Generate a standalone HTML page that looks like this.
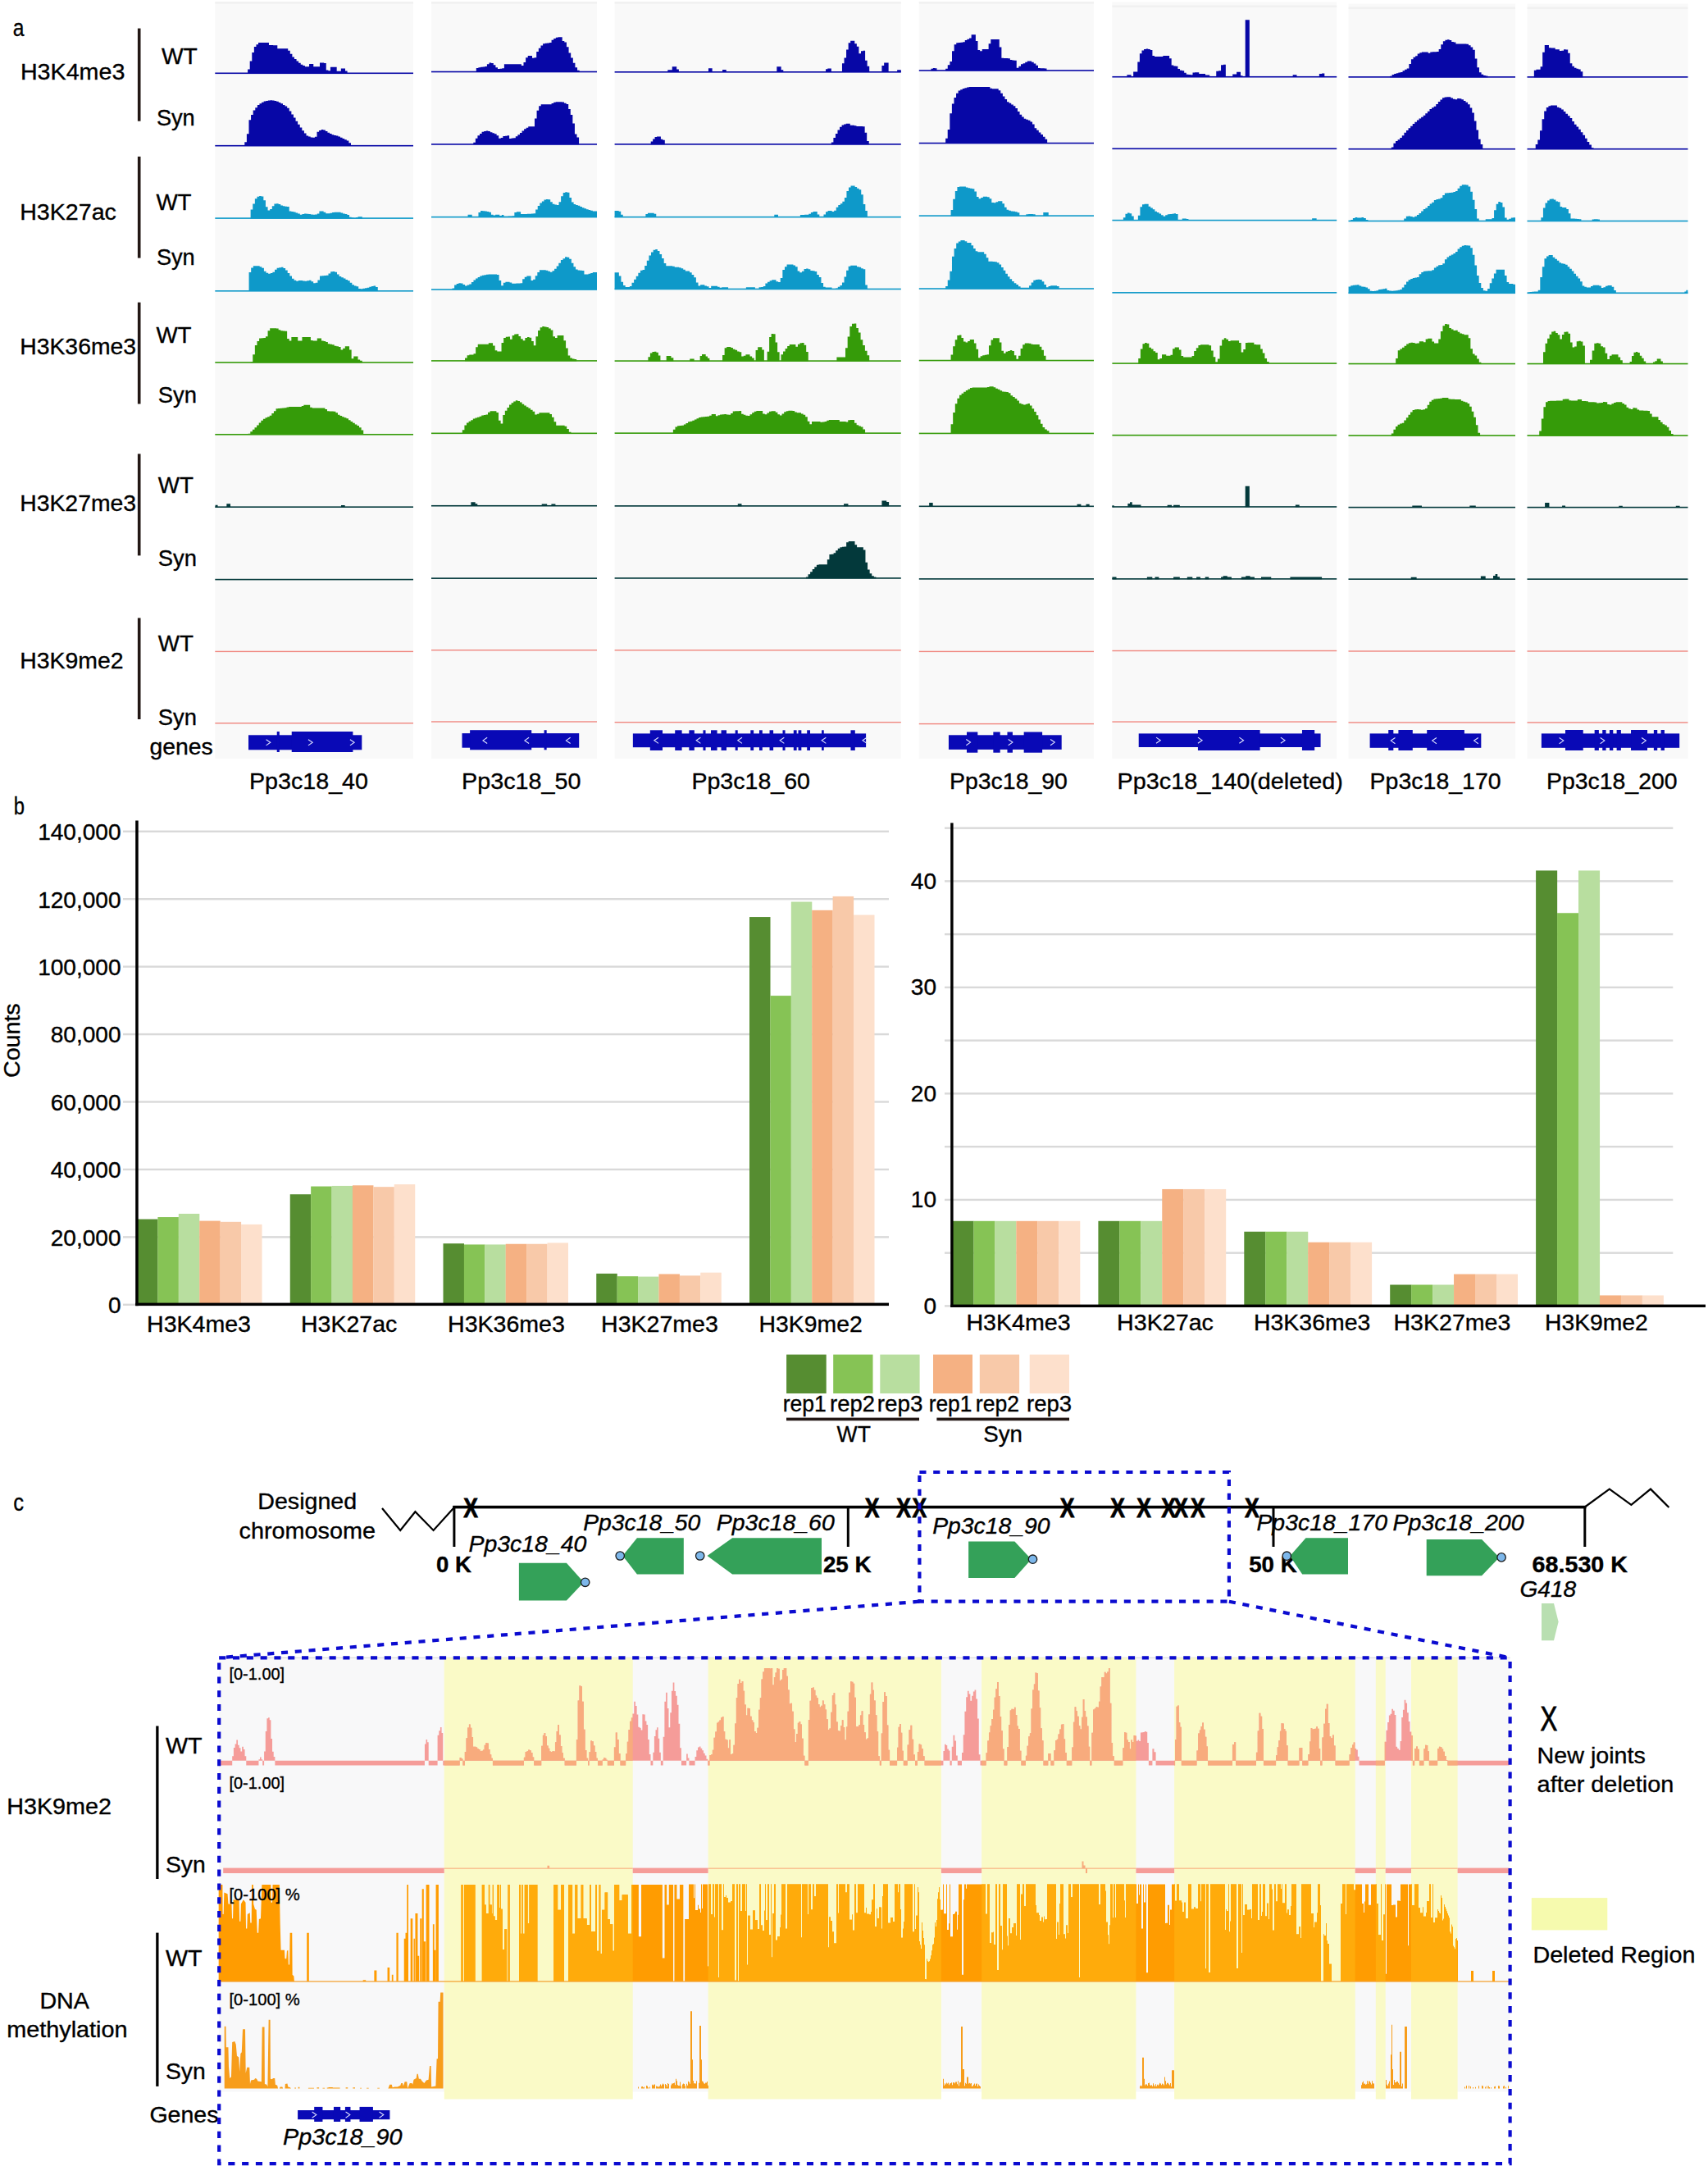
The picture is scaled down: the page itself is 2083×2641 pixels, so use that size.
<!DOCTYPE html>
<html lang="en"><head><meta charset="utf-8"><title>Figure</title>
<style>html,body{margin:0;padding:0;background:#fff}svg{display:block}</style>
</head><body>
<svg width="2083" height="2641" viewBox="0 0 2083 2641">
<rect width="2083" height="2641" fill="#fff"/>
<g id="sec-a">
<rect x="262.3" y="2" width="241.7" height="923" fill="#f9f9f9"/>
<rect x="262.3" y="2" width="241.7" height="2.6" fill="#f1f1f1"/>
<rect x="526" y="2" width="202" height="923" fill="#f9f9f9"/>
<rect x="526" y="2" width="202" height="2.6" fill="#f1f1f1"/>
<rect x="749.6" y="2" width="349.2" height="923" fill="#f9f9f9"/>
<rect x="749.6" y="2" width="349.2" height="2.6" fill="#f1f1f1"/>
<rect x="1120.8" y="2" width="213.2" height="923" fill="#f9f9f9"/>
<rect x="1120.8" y="2" width="213.2" height="2.6" fill="#f1f1f1"/>
<rect x="1356.4" y="2.5" width="273.8" height="922.5" fill="#f9f9f9"/>
<rect x="1356.4" y="6.5" width="273.8" height="2.6" fill="#f1f1f1"/>
<rect x="1644.5" y="4.5" width="203.5" height="920.5" fill="#f9f9f9"/>
<rect x="1644.5" y="8.5" width="203.5" height="2.6" fill="#f1f1f1"/>
<rect x="1862.5" y="4.5" width="196" height="920.5" fill="#f9f9f9"/>
<rect x="1862.5" y="8.5" width="196" height="2.6" fill="#f1f1f1"/>
<rect x="262.3" y="88.49" width="241.7" height="1.6" fill="#0707a6"/>
<path d="M302.11 89.59V84.56H304.69V74.45H307.28V64.12H309.86V57.09H312.45V54.25H315.03V51.91H317.62V51.91H320.2V51.91H322.79V51.91H325.37V51.91H327.96V54.93H330.54V55.08H333.13V55.23H335.71V55.37H338.3V59.23H340.88V59.23H343.47V59.23H346.05V59.23H348.63V59.23H351.22V61.65H353.8V65.79H356.39V69.43H358.97V72.01H361.56V74.58H364.14V76.82H366.73V78.72H369.31V80.01H371.9V81.18H374.48V81.18H377.07V77.96H379.65V77.96H382.24V81.18H384.82V81.18H387.41V81.18H389.99V76.5H392.58V76.5H395.16V76.95H397.75V85.53H400.33V86.16H402.92V81.77H405.5V81.77H408.09V81.77H410.67V86.74H413.26V86.74H415.84V83.52H418.43V83.52H421.01V86.45H423.59V89.59Z" fill="#0707a6"/>
<rect x="262.3" y="176.89" width="241.7" height="1.6" fill="#0707a6"/>
<path d="M298.3 177.99V173.13H300.9V163.18H303.49V146.32H306.08V139.88H308.68V134.54H311.27V131.27H313.86V128.02H316.46V126.16H319.05V124.81H321.65V123.46H324.24V122.96H326.83V122.55H329.43V122.2H332.02V122.62H334.61V123.03H337.21V123.68H339.8V124.97H342.39V126.27H344.99V127.93H347.58V129.59H350.18V131.66H352.77V135.55H355.36V139.44H357.96V143.58H360.55V147.73H363.14V151.7H365.74V155.59H368.33V159.22H370.93V162.46H373.52V165.39H376.11V166.6H378.71V167.43H381.3V167.82H383.89V166.8H386.49V160.68H389.08V158.95H391.67V158.08H394.27V158.6H396.86V159.95H399.46V161.68H402.05V162.98H404.64V164.27H407.24V165H409.83V165.51H412.42V166.41H415.02V167.71H417.61V169H420.2V170.3H422.8V171.6H425.39V174.15H427.99V177.99Z" fill="#0707a6"/>
<rect x="262.3" y="265.3" width="241.7" height="1.6" fill="#0e99c9"/>
<path d="M305.62 266.4V255.46H308.24V248.42H310.86V242.21H313.47V239.82H316.09V238.98H318.71V239.59H321.33V244.13H323.95V252.17H326.56V256.54H329.18V254.97H331.8V251.31H334.42V248.52H337.03V248.17H339.65V249.05H342.27V250.62H344.89V251.18H347.5V251.66H350.12V252H352.74V257.44H355.36V257.96H357.98V258.61H360.59V259.49H363.21V260.6H365.83V261.79H368.45V260.92H371.06V260.43H373.68V260.69H376.3V260.98H378.92V261.5H381.54V261.69H384.15V261.43H386.77V260.42H389.39V257.41H392.01V257.41H394.62V258.7H397.24V260.34H399.86V260.34H402.48V259.82H405.1V258.95H407.71V258.87H410.33V258.87H412.95V258.87H415.57V259.61H418.18V260.51H420.8V260.91H423.42V261.88H426.04V264.78H428.66V265.38H431.27V265.98H433.89V265.21H436.51V264.14H439.13V264.14H441.74V266.4Z" fill="#0e99c9"/>
<rect x="262.3" y="354" width="241.7" height="1.6" fill="#0e99c9"/>
<path d="M303.57 355.1V331.98H306.19V326.39H308.81V324.16H311.43V324.16H314.05V324.16H316.67V325.14H319.29V326.72H321.91V330.63H324.53V332.72H327.15V333.8H329.77V332.88H332.39V331.75H335.01V328.78H337.63V326.8H340.25V326.15H342.87V325.86H345.49V327.08H348.11V329.47H350.73V332.97H353.35V336.46H355.97V339.72H358.59V341.82H361.21V342.64H363.83V342.11H366.45V341.9H369.07V342.6H371.69V342.65H374.31V342.23H376.93V341.81H379.55V343.37H382.17V345.2H384.79V344.85H387.41V341.47H390.03V336.4H392.65V336.22H395.27V336.05H397.89V335.87H400.51V333.59H403.13V331.24H405.75V330.98H408.37V331.63H410.99V334.6H413.61V336.95H416.23V338.26H418.85V339.57H421.47V340.88H424.09V342.19H426.71V344.68H429.33V347.3H431.95V348.6H434.57V349.26H437.19V351.92H439.81V352.17H442.43V351.73H445.05V351.29H447.67V350.63H450.29V349.75H452.91V348.88H455.53V348.39H458.15V350.09H460.77V355.1Z" fill="#0e99c9"/>
<rect x="262.3" y="441.17" width="241.7" height="1.6" fill="#359b09"/>
<path d="M305.62 442.27V441.39H308.24V432.31H310.86V421.06H313.47V415.89H316.09V412.49H318.71V412.28H321.33V412.07H323.95V410.21H326.56V403.36H329.18V400.22H331.8V400.2H334.42V400.2H337.03V400.55H339.65V402.29H342.27V403.23H344.89V403.44H347.5V403.65H350.12V413.02H352.74V415.58H355.36V411.03H357.98V411.03H360.59V411.03H363.21V415.42H365.83V415.42H368.45V411.03H371.06V411.03H373.68V411.03H376.3V411.03H378.92V415.1H381.54V415.42H384.15V415.42H386.77V412.49H389.39V412.49H392.01V415.5H394.62V415.96H397.24V417.02H399.86V419.31H402.48V419.83H405.1V420.35H407.71V421.84H410.33V422.15H412.95V422.93H415.57V426.41H418.18V424.65H420.8V422.15H423.42V422.15H426.04V426.58H428.66V437.24H431.27V434.45H433.89V434.45H436.51V438.6H439.13V439.73H441.74V442.27Z" fill="#359b09"/>
<rect x="262.3" y="528.99" width="241.7" height="1.6" fill="#359b09"/>
<path d="M302.69 530.09V528.81H305.3V526.24H307.9V523.71H310.5V521.28H313.1V518.54H315.7V515.55H318.31V512.84H320.91V510.76H323.51V509.33H326.11V508.28H328.71V506.66H331.32V504.06H333.92V501.22H336.52V498.27H339.12V498.04H341.73V497.82H344.33V497.6H346.93V497.33H349.53V496.47H352.13V495.92H354.74V495.92H357.34V495.92H359.94V495.92H362.54V495.92H365.14V495.92H367.75V495.01H370.35V493.87H372.95V493.87H375.55V493.87H378.16V496.84H380.76V497.39H383.36V497.39H385.96V497.39H388.56V497.39H391.17V497.39H393.77V497.39H396.37V499.08H398.97V501.25H401.57V501.4H404.18V501.55H406.78V501.7H409.38V503.15H411.98V505.7H414.58V507H417.19V508.28H419.79V509.33H422.39V510.37H424.99V512.15H427.6V514.1H430.2V515.83H432.8V517.39H435.4V518.95H438V521.29H440.61V524.44H443.21V530.09Z" fill="#359b09"/>
<rect x="262.3" y="617.4" width="241.7" height="1.6" fill="#03393b"/>
<path d="M262.59 618.5V615.65H265.52V618.5ZM276.35 618.5V614.19H278.69V614.19H281.03V618.5ZM415.98 618.5V615.95H418.33V615.95H420.67V618.5Z" fill="#03393b"/>
<rect x="262.3" y="705.8" width="241.7" height="1.6" fill="#03393b"/>
<rect x="526" y="86.73" width="202" height="1.6" fill="#0707a6"/>
<path d="M580.8 87.83V82.9H583.42V82.25H586.04V81.7H588.66V81.43H591.29V81.08H593.91V78.29H596.53V76.5H599.15V77.05H601.78V79.33H604.4V82.25H607.02V83.97H609.64V83.65H612.27V83.34H614.89V78.25H617.51V78.25H620.13V78.25H622.76V78.25H625.38V78.25H628V78.25H630.62V78.25H633.25V78.25H635.87V80.08H638.49V76H641.11V70.24H643.74V68.01H646.36V68.01H648.98V70.71H651.6V70.34H654.23V63.07H656.85V58.7H659.47V55.62H662.09V53.26H664.72V52.83H667.34V52.39H669.96V51.95H672.58V48.86H675.2V47.08H677.83V45.77H680.45V45.17H683.07V45.17H685.69V50H688.32V51.4H690.94V57.27H693.56V64.48H696.18V70.6H698.81V76.72H701.43V82.36H704.05V85.81H706.67V87.83Z" fill="#0707a6"/>
<rect x="526" y="175.14" width="202" height="1.6" fill="#0707a6"/>
<path d="M577.28 176.24V173.76H579.86V168.8H582.44V165.37H585.01V163.11H587.59V160.84H590.16V159.94H592.74V159.55H595.32V159.97H597.89V161.34H600.47V162.36H603.04V163.26H605.62V165.37H608.2V168.81H610.77V168H613.35V166.05H615.93V165.66H618.5V165.28H621.08V168.92H623.65V168.53H626.23V168.14H628.81V166.28H631.38V164.35H633.96V161.98H636.53V159.4H639.11V157.25H641.69V155.7H644.26V154.37H646.84V154.37H649.41V154.37H651.99V144.53H654.57V134.69H657.14V129.25H659.72V127.14H662.3V127.14H664.87V127.14H667.45V127.14H670.02V127.14H672.6V125.97H675.18V124.68H677.75V124.21H680.33V124.21H682.9V124.21H685.48V124.51H688.06V125.8H690.63V127.08H693.21V132.88H695.78V139.96H698.36V150.56H700.94V163.44H703.51V167.61H706.09V176.24Z" fill="#0707a6"/>
<rect x="526" y="263.84" width="202" height="1.6" fill="#0e99c9"/>
<path d="M570.55 264.94V261.8H573.13V261.8H575.71V264.94H578.29V264.94H580.87V264.94H583.46V259.04H586.04V256.89H588.62V257.15H591.2V257.41H593.78V258.05H596.36V258.7H598.94V261.68H601.52V262.5H604.11V261.8H606.69V261.8H609.27V263.02H611.85V261.9H614.43V263.71H617.01V263.72H619.59V263.57H622.17V263.42H624.75V263.27H627.34V259.09H629.92V258.29H632.5V258.29H635.08V261.12H637.66V261.08H640.24V260.94H642.82V260.8H645.4V260.66H647.98V260.52H650.57V260.37H653.15V255.54H655.73V250.92H658.31V247.48H660.89V245.41H663.47V243.47H666.05V242.99H668.63V243.34H671.21V246.27H673.8V248.78H676.38V249.43H678.96V250.07H681.54V246.34H684.12V239.23H686.7V235.11H689.28V234.28H691.86V234.8H694.45V240.9H697.03V246.55H699.61V249.12H702.19V249.95H704.77V250.77H707.35V251.95H709.93V253.25H712.51V254.34H715.09V255.25H717.68V256.09H720.26V256.74H722.84V257.38H725.42V257.41H728V264.94Z" fill="#0e99c9"/>
<rect x="526" y="352.24" width="202" height="1.6" fill="#0e99c9"/>
<path d="M551.52 353.34V351.38H554.12V347.45H556.71V346H559.31V345.27H561.9V345.62H564.5V346.92H567.09V348.48H569.69V347.57H572.28V346.59H574.88V344H577.47V341.4H580.07V339.62H582.67V338.06H585.26V336.51H587.86V335.87H590.45V335.26H593.05V334.66H595.64V334.4H598.24V334.4H600.83V334.4H603.43V334.4H606.02V334.88H608.62V341.89H611.21V348.32H613.81V344.86H616.4V343.77H619V343.77H621.59V344.55H624.19V345.78H626.78V345.65H629.38V345.52H631.98V345.39H634.57V345.26H637.17V340.26H639.76V337.66H642.36V336.45H644.95V336.45H647.55V341.91H650.14V340.69H652.74V336.36H655.33V332.04H657.93V329.13H660.52V329.13H663.12V329.13H665.71V329.66H668.31V330.7H670.9V331.74H673.5V330.27H676.09V327.68H678.69V324.52H681.29V320.63H683.88V317.08H686.48V315.13H689.07V313.19H691.67V313.83H694.26V315.68H696.86V320.87H699.45V325.14H702.05V328.6H704.64V329.4H707.24V329.71H709.83V330.12H712.43V334.53H715.02V334.41H717.62V333.76H720.21V332.97H722.81V332.1H725.4V332.06H728V353.34Z" fill="#0e99c9"/>
<rect x="526" y="439.12" width="202" height="1.6" fill="#359b09"/>
<path d="M567.04 440.22V436.53H569.66V433.13H572.27V432.4H574.89V432.4H577.51V431.13H580.13V423.24H582.74V419.81H585.36V419.81H587.98V419.81H590.6V419.81H593.22V419.81H595.83V418.35H598.45V418.35H601.07V421.62H603.69V427.23H606.3V428.59H608.92V428.59H611.54V418.08H614.16V411.95H616.78V410.81H619.39V410.55H622.01V413.73H624.63V408.91H627.25V407.51H629.86V407.22H632.48V410.11H635.1V413.36H637.72V415.22H640.34V411.97H642.95V411.03H645.57V411.68H648.19V416.11H650.81V421.13H653.42V410.24H656.04V403.05H658.66V399.25H661.28V397.94H663.9V398.47H666.51V399.12H669.13V400.53H671.75V402.49H674.37V410.31H676.98V411.89H679.6V408.98H682.22V408.98H684.84V408.98H687.45V415.17H690.07V424.59H692.69V433.59H695.31V436.48H697.93V437.56H700.54V437.9H703.16V440.22Z" fill="#359b09"/>
<rect x="526" y="527.53" width="202" height="1.6" fill="#359b09"/>
<path d="M563.82 528.63V524.29H566.42V518.47H569.02V515.6H571.62V513.86H574.22V512.13H576.82V510.47H579.42V509.56H582.02V508.65H584.62V507.63H587.22V506.59H589.82V505.94H592.42V505.55H595.02V502.81H597.62V501.19H600.22V501.19H602.82V501.19H605.42V502.95H608.02V512.67H610.62V516.42H613.22V506.05H615.82V500.85H618.42V496.89H621.02V493.4H623.62V491.15H626.22V489.44H628.82V488.23H631.42V489.03H634.02V490.39H636.62V492.64H639.22V494.58H641.82V496.14H644.42V497.78H647.02V499.73H649.62V501.68H652.22V505.49H654.83V504.74H657.43V503.24H660.03V503.24H662.63V503.24H665.23V503.24H667.83V503.24H670.43V504.89H673.03V508.8H675.63V514.3H678.23V518.76H680.83V518.76H683.43V518.76H686.03V518.76H688.63V519.74H691.23V522.98H693.83V526.74H696.43V528.63Z" fill="#359b09"/>
<rect x="526" y="615.93" width="202" height="1.6" fill="#03393b"/>
<path d="M574.36 617.03V612.14H576.99V612.14H579.63V614.19H582.26V617.03ZM660.71 617.03V614.48H663.93V614.48H667.15V617.03ZM672.42 617.03V614.48H674.91V614.48H677.4V617.03Z" fill="#03393b"/>
<rect x="526" y="704.34" width="202" height="1.6" fill="#03393b"/>
<rect x="749.6" y="87.02" width="349.2" height="1.6" fill="#0707a6"/>
<path d="M814.31 88.12V85.28H817.03V85.28H819.74V81.3H822.46V81.3H825.18V84.58H827.89V88.12ZM863.96 88.12V83.17H866.3V83.17H868.64V88.12ZM881.05 88.12V85.05H883.4V85.05H885.74V88.12ZM947.33 88.12V81.3H949.98V81.3H952.64V85.2H955.29V88.12ZM1007.05 88.12V84.25H1009.31V83.41H1011.58V83.41H1013.84V88.12ZM1026.96 88.12V77.26H1029.51V70.44H1032.07V60.44H1034.63V52.15H1037.19V49.68H1039.75V49.68H1042.3V53.3H1044.86V56.72H1047.42V65.37H1049.98V62.27H1052.54V61.86H1055.09V73.82H1057.65V80.75H1060.21V88.12ZM1075.43 88.12V79.89H1078.17V76.38H1080.9V76.38H1083.63V88.12ZM1094.17 88.12V85.28H1096.48V85.28H1098.8V88.12Z" fill="#0707a6"/>
<rect x="749.6" y="175.08" width="349.2" height="1.6" fill="#0707a6"/>
<path d="M793.7 176.18V172.49H796.14V169.48H798.58V167H801.03V166.54H803.47V166.54H805.91V169.72H808.35V170.74H810.8V176.18ZM1013.84 176.18V173.42H1016.39V168.03H1018.94V162.93H1021.49V158.62H1024.04V154.87H1026.59V152.4H1029.14V151.47H1031.69V150.85H1034.24V150.85H1036.79V152.73H1039.34V152.73H1041.89V153.25H1044.44V153.9H1046.99V153.9H1049.54V153.9H1052.09V154.17H1054.64V161.86H1057.19V171.88H1059.74V176.18Z" fill="#0707a6"/>
<rect x="749.6" y="263.84" width="349.2" height="1.6" fill="#0e99c9"/>
<path d="M749.6 264.94V256.94H752.14V256.94H754.67V257.67H757.21V261.73H759.74V264.94ZM787.38 264.94V260.88H789.95V259.8H792.53V259.75H795.11V259.75H797.68V260.87H800.26V264.94ZM944.29 264.94V261.63H946.63V261.63H948.97V264.94ZM975.9 264.94V262.09H978.5V261.96H981.11V261.83H983.71V261.7H986.31V260.69H988.91V258.98H991.51V258.11H994.12V258.11H996.72V261.44H999.32V264.94ZM1004.47 264.94V261.42H1007.02V258.2H1009.56V256.94H1012.1V256.94H1014.64V257.92H1017.19V256.71H1019.73V252.69H1022.27V250.08H1024.81V248.17H1027.36V245.67H1029.9V241.02H1032.44V233.06H1034.98V228.43H1037.53V226.5H1040.07V226.5H1042.61V227.98H1045.16V229.79H1047.7V231.18H1050.24V237.34H1052.78V249.1H1055.33V257.11H1057.87V264.94Z" fill="#0e99c9"/>
<rect x="749.6" y="351.66" width="349.2" height="1.6" fill="#0e99c9"/>
<path d="M749.6 352.76V332.35H752.21V332.35H754.83V336.55H757.44V343.81H760.05V348.01H762.66V349.92H765.28V349.92H767.89V348.99H770.5V344.64H773.12V340.66H775.73V336.74H778.34V332.82H780.95V329.76H783.57V328.89H786.18V323.94H788.79V317.68H791.41V311.47H794.02V307.55H796.63V304.86H799.24V304.02H801.86V306.11H804.47V309.93H807.08V315.03H809.69V320.95H812.31V324.16H814.92V324.16H817.53V324.16H820.15V324.76H822.76V325.8H825.37V325.8H827.98V326.17H830.6V327.21H833.21V328.85H835.82V330.48H838.44V330.48H841.05V332.26H843.66V334.97H846.27V338.25H848.89V344.47H851.5V348.5H854.11V347.34H856.73V347.19H859.34V348.51H861.95V349.21H864.56V351.05H867.18V348.75H869.79V348.75H872.4V348.75H875.02V349.87H877.63V350.72H880.24V350.15H882.85V350.15H885.47V350.15H888.08V352.76ZM909.86 352.76V350.15H912.61V350.15H915.36V350.15H918.11V350.15H920.87V352.76ZM925.55 352.76V350.37H928.17V350.11H930.79V349H933.4V345.51H936.02V343.63H938.64V342.18H941.25V341.25H943.87V341.25H946.49V343.13H949.11V344.06H951.72V338.9H954.34V329.05H956.96V325.17H959.58V322.52H962.19V322.52H964.81V322.52H967.43V323.62H970.05V325.16H972.66V330.42H975.28V332.21H977.9V330.63H980.52V327.97H983.13V327.4H985.75V328.29H988.37V330.08H990.99V330.29H993.6V330.98H996.22V334.97H998.84V337.93H1001.46V345.03H1004.07V349.71H1006.69V350.39H1009.31V350.39H1011.93V350.39H1014.54V352.76ZM1019.23 352.76V351.45H1021.8V349.68H1024.38V347.97H1026.96V344.53H1029.53V337.39H1032.11V329.75H1034.68V324.68H1037.26V323.69H1039.84V323.69H1042.41V323.69H1044.99V325.35H1047.56V325.87H1050.14V327.26H1052.72V328.27H1055.29V347.58H1057.87V352.76Z" fill="#0e99c9"/>
<rect x="749.6" y="439.29" width="349.2" height="1.6" fill="#359b09"/>
<path d="M790.42 440.39V435.2H792.92V430.41H795.42V429H797.92V428.75H800.41V429.73H802.91V433.49H805.41V440.39ZM812.67 440.39V434.04H815.56V434.04H818.45V436.37H821.33V440.39ZM841.24 440.39V437.55H843.93V437.55H846.63V440.39ZM853.65 440.39V433.98H856V431.93H858.34V431.93H860.68V434.41H863.02V436.85H865.36V440.39ZM881.05 440.39V433.06H883.63V424.2H886.21V423.03H888.78V423.03H891.36V424.09H893.93V425.8H896.51V426.83H899.09V428.51H901.66V429.27H904.24V434.48H906.81V433.71H909.39V432.26H911.97V432.2H914.54V434.61H917.12V436.54H919.7V440.39ZM921.57 440.39V426.93H924.15V423.36H926.72V423.18H929.3V426.43H931.87V440.39ZM935.62 440.39V428.76H938.12V411.09H940.62V407.03H943.11V407.35H945.61V417.41H948.11V429.17H950.61V440.39ZM952.48 440.39V432.24H955.04V428.45H957.6V425.04H960.16V421.89H962.71V419.99H965.27V419.99H967.83V419.99H970.39V422.81H972.95V419.86H975.51V418.14H978.06V417.89H980.62V420.67H983.18V428.92H985.74V440.39ZM1020.4 440.39V435.44H1023.05V435.44H1025.71V435.44H1028.36V435.44H1031.01V424.2H1033.67V410.39H1036.32V397.9H1038.98V394.81H1041.63V394.55H1044.29V399.92H1046.94V405.47H1049.59V414.23H1052.25V421.08H1054.9V427.72H1057.56V433.26H1060.21V440.39Z" fill="#359b09"/>
<rect x="749.6" y="527.35" width="349.2" height="1.6" fill="#359b09"/>
<path d="M820.87 528.45V523.78H823.47V520.6H826.07V519.34H828.67V518.99H831.28V518.64H833.88V517.44H836.48V515.89H839.08V514.29H841.68V513.64H844.29V512.78H846.89V511.48H849.49V510.18H852.09V508.88H854.69V508.39H857.3V508.21H859.9V508.04H862.5V507.65H865.1V506.77H867.7V505H870.31V505H872.91V507.27H875.51V506.23H878.11V505.42H880.72V505.25H883.32V505.07H885.92V505.49H888.52V505.79H891.12V504.05H893.73V501.56H896.33V501.34H898.93V501.19H901.53V501.04H904.13V504.65H906.74V505.8H909.34V506.66H911.94V506.96H914.54V505.22H917.15V503.19H919.75V501.74H922.35V501.02H924.95V501.02H927.55V501.02H930.16V504.53H932.76V505.18H935.36V503.45H937.96V501.71H940.56V501.26H943.17V501.13H945.77V502.69H948.37V505.37H950.97V506.57H953.58V504.49H956.18V502.23H958.78V501.22H961.38V500.83H963.98V500.87H966.59V500.98H969.19V502.47H971.79V503.13H974.39V503.13H976.99V504.4H979.6V505.79H982.2V508.13H984.8V513.69H987.4V517.26H990.01V513.9H992.61V513.9H995.21V513.9H997.81V513.9H1000.41V514.83H1003.02V514.57H1005.62V514.08H1008.22V512.78H1010.82V512.02H1013.42V512.02H1016.03V512.02H1018.63V512.02H1021.23V512.02H1023.83V513.9H1026.44V513.9H1029.04V513.9H1031.64V514.57H1034.24V512.23H1036.84V512.02H1039.45V512.02H1042.05V515.77H1044.65V518.13H1047.25V519.46H1049.85V520.38H1052.46V523.55H1055.06V528.45Z" fill="#359b09"/>
<rect x="749.6" y="616.11" width="349.2" height="1.6" fill="#03393b"/>
<path d="M899.79 617.21V614.37H902.13V614.37H904.47V617.21ZM1029.06 617.21V614.37H1031.76V614.37H1034.45V617.21ZM1075.43 617.21V610.39H1078.32V610.39H1081.21V612.02H1084.1V617.21Z" fill="#03393b"/>
<rect x="749.6" y="704.16" width="349.2" height="1.6" fill="#03393b"/>
<path d="M982.93 705.26V703.53H985.52V700.13H988.11V697.19H990.7V694.12H993.29V691.23H995.88V688.78H998.47V688.14H1001.06V688.14H1003.65V688.14H1006.24V688.14H1008.83V682.19H1011.42V675.91H1014.01V675.65H1016.6V674.18H1019.19V671.19H1021.78V668.75H1024.37V667.37H1026.96V666.86H1029.55V666.6H1032.14V661.35H1034.73V660.03H1037.32V660.03H1039.91V660.03H1042.5V664.22H1045.09V667.29H1047.69V667.29H1050.28V667.29H1052.87V670.59H1055.46V685.82H1058.05V694.43H1060.64V699.33H1063.23V702.15H1065.82V703.53H1068.41V705.26Z" fill="#03393b"/>
<rect x="1120.8" y="85.19" width="213.2" height="1.6" fill="#0707a6"/>
<path d="M1135.43 86.29V83.8H1137.79V82.89H1140.15V83.18H1142.51V86.29ZM1153.14 86.29V83.86H1155.76V79.24H1158.39V74.88H1161.01V62.37H1163.64V54.17H1166.26V52.34H1168.89V51.99H1171.51V51.67H1174.14V51.36H1176.76V48.94H1179.38V47.83H1182.01V46.55H1184.63V42.31H1187.26V42.32H1189.88V49.91H1192.51V61.07H1195.13V62.13H1197.76V60.03H1200.38V60.03H1203V60.03H1205.63V53.23H1208.25V48.11H1210.88V48.11H1213.5V48.11H1216.13V48.11H1218.75V57.45H1221.38V70.68H1224V70.89H1226.62V71.1H1229.25V71.37H1231.87V72.95H1234.5V73.52H1237.12V73.87H1239.75V82.63H1242.37V80.82H1245V78.24H1247.62V77.37H1250.24V75.66H1252.87V74.52H1255.49V74.52H1258.12V75.81H1260.74V77.61H1263.37V79.82H1265.99V82.99H1268.62V83.16H1271.24V83.34H1273.87V83.51H1276.49V86.29Z" fill="#0707a6"/>
<rect x="1120.8" y="173.76" width="213.2" height="1.6" fill="#0707a6"/>
<path d="M1153.14 174.86V168.67H1155.72V157.97H1158.31V138.21H1160.89V126.59H1163.47V118.89H1166.06V113.75H1168.64V110.57H1171.22V109.28H1173.81V107.98H1176.39V107.19H1178.97V106.55H1181.56V106.08H1184.14V106.08H1186.72V106.08H1189.3V106.08H1191.89V106.08H1194.47V106.08H1197.05V106.08H1199.64V106.08H1202.22V106.08H1204.8V106.08H1207.39V107.76H1209.97V108.33H1212.55V108.33H1215.14V108.33H1217.72V110.23H1220.3V113.75H1222.89V117.6H1225.47V121.04H1228.05V124.14H1230.64V125.86H1233.22V127.58H1235.8V129.31H1238.39V132.02H1240.97V135.9H1243.55V139.77H1246.14V142.4H1248.72V144.81H1251.3V145.67H1253.88V146.73H1256.47V148.45H1259.05V151.4H1261.63V156.28H1264.22V158.87H1266.8V161.45H1269.38V164.03H1271.97V166.76H1274.55V169.75H1277.13V174.86Z" fill="#0707a6"/>
<rect x="1120.8" y="262.32" width="213.2" height="1.6" fill="#0e99c9"/>
<path d="M1159.58 263.42V255.95H1162.2V242.65H1164.81V233.1H1167.43V228.07H1170.05V227.5H1172.67V227.5H1175.28V227.5H1177.9V228.45H1180.52V229.3H1183.13V229.7H1185.75V230.2H1188.37V233.61H1190.98V239.97H1193.6V242.2H1196.22V240.89H1198.83V239.74H1201.45V239.74H1204.07V240.23H1206.68V242.17H1209.3V246.88H1211.92V247.36H1214.53V246.24H1217.15V245.21H1219.77V245.21H1222.38V248.15H1225V252.69H1227.62V255.87H1230.23V256.74H1232.85V257.51H1235.47V257.82H1238.08V258.14H1240.7V259.35H1243.32V263.42ZM1251.37 263.42V261.3H1254.19V260.99H1257V260.99H1259.82V261.3H1262.64V263.42ZM1272.3 263.42V259.06H1275.52V259.06H1278.74V263.42Z" fill="#0e99c9"/>
<rect x="1120.8" y="351.21" width="213.2" height="1.6" fill="#0e99c9"/>
<path d="M1153.14 352.31V349.11H1155.75V341.61H1158.37V330.7H1160.98V312.66H1163.59V302.93H1166.2V296.4H1168.82V294.44H1171.43V292.88H1174.04V292.88H1176.66V294.21H1179.27V296.1H1181.88V296.1H1184.5V299.2H1187.11V303.11H1189.72V306.18H1192.33V307.37H1194.95V307.37H1197.56V307.37H1200.17V309.83H1202.79V314.27H1205.4V318.67H1208.01V318.84H1210.62V319.02H1213.24V319.19H1215.85V320.34H1218.46V322.6H1221.08V325.89H1223.69V329.81H1226.3V333.66H1228.92V337.14H1231.53V340.36H1234.14V342.98H1236.75V345.2H1239.37V346.94H1241.98V349.21H1244.59V350.85H1247.21V350.85H1249.82V350.85H1252.43V350.85H1255.05V348.2H1257.66V344.51H1260.27V341.68H1262.88V340.99H1265.5V340.67H1268.11V341.01H1270.72V343.19H1273.34V346.96H1275.95V350.15H1278.56V349.11H1281.17V348.27H1283.79V348.27H1286.4V348.27H1289.01V349.03H1291.63V352.31Z" fill="#0e99c9"/>
<rect x="1120.8" y="438.75" width="213.2" height="1.6" fill="#359b09"/>
<path d="M1159.58 439.85V432.49H1162.16V422.2H1164.73V414.23H1167.31V409.03H1169.89V408.5H1172.46V412.07H1175.04V416.56H1177.62V417.45H1180.19V415.92H1182.77V413.91H1185.35V413.91H1187.92V418.47H1190.5V425.82H1193.08V436.13H1195.65V434.2H1198.23V433.34H1200.81V432.78H1203.38V432.26H1205.96V421.19H1208.53V414.5H1211.11V412.3H1213.69V412.3H1216.26V412.3H1218.84V417.5H1221.42V427.66H1223.99V430.65H1226.57V428.72H1229.15V428.08H1231.72V426.98H1234.3V428.04H1236.88V433.18H1239.45V437.74H1242.03V433.87H1244.61V425.02H1247.18V420.22H1249.76V418.43H1252.33V418.59H1254.91V418.74H1257.49V419.77H1260.06V420.03H1262.64V420.03H1265.22V420.03H1267.79V422.64H1270.37V426.63H1272.95V433.87H1275.52V439.85Z" fill="#359b09"/>
<rect x="1120.8" y="527.64" width="213.2" height="1.6" fill="#359b09"/>
<path d="M1159.58 528.74V517.13H1162.19V502.91H1164.79V492.21H1167.39V485.78H1170V481.82H1172.6V479.74H1175.21V477.77H1177.81V476.03H1180.42V474.46H1183.02V473.07H1185.63V472.52H1188.23V472.52H1190.84V472.52H1193.44V472.52H1196.04V472.52H1198.65V472.52H1201.25V472.52H1203.86V471.96H1206.46V471.27H1209.07V471.23H1211.67V472.35H1214.28V473.66H1216.88V474.71H1219.48V476.23H1222.09V477.47H1224.69V477.79H1227.3V478.1H1229.9V479.24H1232.51V482.29H1235.11V484.02H1237.72V485.94H1240.32V488.54H1242.93V491.65H1245.53V492.87H1248.13V493.39H1250.74V492.69H1253.34V491.9H1255.95V494.51H1258.55V498.13H1261.16V502.04H1263.76V506.35H1266.37V511.56H1268.97V516.77H1271.57V520.89H1274.18V523.49H1276.78V525.22H1279.39V528.74Z" fill="#359b09"/>
<rect x="1120.8" y="616.53" width="213.2" height="1.6" fill="#03393b"/>
<path d="M1133.17 617.63V612.94H1135.43V612.94H1137.68V617.63ZM1313.53 617.63V614.87H1315.94V614.87H1318.36V617.63ZM1324.48 617.63V614.87H1326.57V614.87H1328.66V617.63Z" fill="#03393b"/>
<rect x="1120.8" y="705.09" width="213.2" height="1.6" fill="#03393b"/>
<rect x="1356.4" y="92.92" width="273.8" height="1.6" fill="#0707a6"/>
<path d="M1374.4 94.02V91.27H1376.98V91.27H1379.57V94.02H1382.15V87.4H1384.74V87.4H1387.32V75.62H1389.9V65.29H1392.49V61.43H1395.07V60.01H1397.66V59.49H1400.24V60.05H1402.83V60.92H1405.41V68.01H1408V69.04H1410.58V69.04H1413.17V69.04H1415.75V69.04H1418.34V68.08H1420.92V68.08H1423.51V68.08H1426.09V71.32H1428.68V79.44H1431.26V80.43H1433.85V80.77H1436.43V84H1439.01V85.68H1441.6V86.33H1444.18V88.85H1446.77V90.77H1449.35V90.98H1451.94V91.18H1454.52V88.48H1457.11V88.37H1459.69V88.37H1462.28V89.98H1464.86V89.98H1467.45V89.98H1470.03V91.59H1472.62V91.59H1475.2V94.02ZM1483.25 94.02V86.63H1486.15V86.19H1489.05V79.14H1491.95V78.73H1494.85V94.02ZM1503.22 94.02V90.62H1505.67V90.62H1508.12V87.72H1510.56V87.72H1513.01V92.17H1515.46V94.02ZM1518.68 94.02V24.28H1521.26V24.28H1523.83V94.02ZM1576.65 94.02V91.27H1579.07V91.27H1581.48V94.02ZM1608.86 94.02V89.89H1612.08V89.46H1615.3V94.02Z" fill="#0707a6"/>
<rect x="1356.4" y="180.52" width="273.8" height="1.6" fill="#0707a6"/>
<rect x="1356.4" y="267.8" width="273.8" height="1.6" fill="#0e99c9"/>
<path d="M1369.89 268.9V265.13H1372.45V260.84H1375.02V259.57H1377.59V260.37H1380.15V263.45H1382.72V268.9H1385.28V268.9H1387.85V262.81H1390.42V252.34H1392.98V249.26H1395.55V248.75H1398.11V248.75H1400.68V251.69H1403.25V253.51H1405.81V255.37H1408.38V257.71H1410.94V259.08H1413.51V260.57H1416.08V262.34H1418.64V263.63H1421.21V262.26H1423.78V261.17H1426.34V260.92H1428.91V260.66H1431.47V260.32H1434.04V260.94H1436.61V268.04H1439.17V268.9H1441.74V266.47H1444.3V266.47H1446.87V266.96H1449.44V268.9ZM1600.16 268.9V266.14H1602.9V266.14H1605.64V268.9Z" fill="#0e99c9"/>
<rect x="1356.4" y="356.04" width="273.8" height="1.6" fill="#0e99c9"/>
<rect x="1356.4" y="442.29" width="273.8" height="1.6" fill="#359b09"/>
<path d="M1388.24 443.39V436.98H1390.86V425.38H1393.47V419.34H1396.09V418.03H1398.7V418.82H1401.31V423.86H1403.93V425.46H1406.54V428.18H1409.15V430.01H1411.77V438.37H1414.38V436.9H1416.99V432.26H1419.61V432.26H1422.22V433.73H1424.83V433.87H1427.45V432.87H1430.06V425.28H1432.67V423.57H1435.29V423.57H1437.9V426.46H1440.51V434.09H1443.13V435.4H1445.74V435.48H1448.35V435.48H1450.97V435.48H1453.58V433.93H1456.19V428.06H1458.81V424.15H1461.42V421.02H1464.03V420.35H1466.65V420.35H1469.26V420.35H1471.88V420.35H1474.49V421.37H1477.1V427.39H1479.72V435.32H1482.33V441.37H1484.94V437.52H1487.56V421.43H1490.17V414.31H1492.78V412.33H1495.4V413.65H1498.01V416.01H1500.62V415.36H1503.24V415.19H1505.85V415.19H1508.46V415.19H1511.08V418.04H1513.69V429.5H1516.3V425.98H1518.92V417.96H1521.53V417.77H1524.14V417.77H1526.76V417.77H1529.37V420.11H1531.98V420.35H1534.6V420.35H1537.21V425.51H1539.82V430.48H1542.44V436.96H1545.05V440.93H1547.67V443.39Z" fill="#359b09"/>
<rect x="1356.4" y="529.89" width="273.8" height="1.6" fill="#359b09"/>
<rect x="1356.4" y="617.17" width="273.8" height="1.6" fill="#03393b"/>
<path d="M1356.4 618.27V616.16H1358.62V618.27ZM1375.36 618.27V613.91H1378.05V612.3H1380.73V615.52H1383.41V615.52H1386.1V615.52H1388.78V615.52H1391.47V618.27ZM1423.67 618.27V615.84H1426.41V615.84H1429.15V618.27ZM1431.08 618.27V615.84H1433.66V615.84H1436.23V615.84H1438.81V618.27ZM1518.68 618.27V592.65H1521.26V592.65H1523.83V618.27ZM1579.87 618.27V615.52H1582.29V615.52H1584.7V618.27Z" fill="#03393b"/>
<rect x="1356.4" y="705.09" width="273.8" height="1.6" fill="#03393b"/>
<path d="M1356.4 706.19V703.44H1358.96V703.44H1361.51V706.19ZM1398.87 706.19V703.44H1402.09V703.44H1405.31V706.19ZM1408.53 706.19V703.44H1410.95V703.44H1413.37V706.19ZM1431.08 706.19V703.44H1433.66V703.44H1436.23V703.44H1438.81V706.19ZM1447.83 706.19V703.44H1451.05V703.44H1454.27V706.19ZM1459.1 706.19V703.44H1461.51V703.44H1463.93V706.19ZM1469.73 706.19V703.44H1471.98V703.44H1474.24V706.19ZM1489.05 706.19V703.44H1491.63V702.15H1494.2V702.15H1496.78V703.44H1499.36V703.44H1501.93V706.19ZM1513.85 706.19V703.44H1516.53V703.44H1519.22V702.15H1521.9V702.15H1524.58V703.44H1527.27V703.44H1529.95V706.19ZM1538 706.19V703.44H1540.45V703.44H1542.9V703.44H1545.35V703.44H1547.79V703.44H1550.24V706.19ZM1573.43 706.19V703.44H1576.01V703.44H1578.58V703.44H1581.16V703.44H1583.74V703.44H1586.31V703.44H1588.89V703.44H1591.47V703.44H1594.04V703.44H1596.62V703.44H1599.19V703.44H1601.77V703.44H1604.35V703.44H1606.92V703.44H1609.5V703.44H1612.08V706.19Z" fill="#03393b"/>
<rect x="1644.5" y="93.1" width="203.5" height="1.6" fill="#0707a6"/>
<path d="M1694.99 94.2V92.79H1697.58V90.88H1700.18V89.97H1702.77V89.19H1705.37V88.56H1707.96V87.94H1710.56V86.35H1713.15V84.79H1715.75V83.58H1718.34V78.09H1720.94V72.22H1723.53V69.83H1726.13V68.16H1728.72V65.57H1731.31V64.18H1733.91V63.46H1736.5V63.46H1739.1V63.62H1741.69V64.66H1744.29V63.45H1746.88V63.3H1749.48V63.15H1752.07V63H1754.67V59.95H1757.26V54.35H1759.86V50.34H1762.45V48.7H1765.05V48.31H1767.64V49.08H1770.24V50.92H1772.83V51.44H1775.43V53.38H1778.02V53.38H1780.62V53.38H1783.21V53.38H1785.81V53.38H1788.4V53.71H1791V55.36H1793.59V57.44H1796.19V60.71H1798.78V71.48H1801.38V82.2H1803.97V88.3H1806.57V90.77H1809.16V92.12H1811.76V92.55H1814.35V94.2Z" fill="#0707a6"/>
<rect x="1644.5" y="180.9" width="203.5" height="1.6" fill="#0707a6"/>
<path d="M1696.84 182V179.52H1699.43V174.87H1702.03V171.96H1704.62V170.24H1707.21V167.98H1709.8V165.33H1712.39V161.87H1714.98V158.88H1717.57V156.29H1720.16V153.7H1722.75V151.11H1725.34V148.69H1727.93V146.49H1730.52V144.49H1733.12V142.81H1735.71V140.81H1738.3V138.22H1740.89V135.63H1743.48V133.04H1746.07V131.24H1748.66V129.68H1751.25V127.01H1753.84V124H1756.43V121.41H1759.02V119.32H1761.61V118.53H1764.21V118.35H1766.8V118.18H1769.39V119.38H1771.98V120.76H1774.57V121.28H1777.16V120H1779.75V120.29H1782.34V121.23H1784.93V122.96H1787.52V124.69H1790.11V127.19H1792.7V131.51H1795.3V137.5H1797.89V147.51H1800.48V158.53H1803.07V169.79H1805.66V176.07H1808.25V182Z" fill="#0707a6"/>
<rect x="1644.5" y="268.7" width="203.5" height="1.6" fill="#0e99c9"/>
<path d="M1647.24 269.8V268.09H1649.89V265.94H1652.55V265.05H1655.2V265.58H1657.85V265.58H1660.5V265.05H1663.16V265.94H1665.81V268.09H1668.46V269.8ZM1712.23 269.8V266.43H1714.84V263.78H1717.46V263.38H1720.07V264.03H1722.69V264.67H1725.3V263.8H1727.92V262.12H1730.53V260.03H1733.15V257.42H1735.76V255.12H1738.37V253.38H1740.99V250.9H1743.6V248.57H1746.22V246.83H1748.83V243.96H1751.45V242.99H1754.06V242.6H1756.68V241.18H1759.29V237.98H1761.91V235.62H1764.52V235.28H1767.14V234.96H1769.75V234.65H1772.36V233.93H1774.98V233.02H1777.59V229.66H1780.21V226.82H1782.82V225.26H1785.44V225.26H1788.05V225.44H1790.67V227.62H1793.28V233.72H1795.9V243.86H1798.51V255.06H1801.13V266.46H1803.74V269.8ZM1811.7 269.8V267.23H1814.29V267.17H1816.88V267.17H1819.48V265.9H1822.07V256.31H1824.66V248.79H1827.26V245.95H1829.85V247.01H1832.44V252.42H1835.03V265.44H1837.63V267.7H1840.22V266.81H1842.81V265.59H1845.41V265.23H1848V269.8Z" fill="#0e99c9"/>
<rect x="1644.5" y="356.49" width="203.5" height="1.6" fill="#0e99c9"/>
<path d="M1644.59 357.59V349.41H1647.2V348.37H1649.8V347.71H1652.41V347.5H1655.02V347.3H1657.63V348.56H1660.24V349.51H1662.84V349.77H1665.45V350.56H1668.06V352.3H1670.67V354.77H1673.28V355.07H1675.88V354.86H1678.49V354.27H1681.1V353.05H1683.71V352.79H1686.31V352.29H1688.92V351.8H1691.53V353.99H1694.14V354.38H1696.75V354.67H1699.35V354.41H1701.96V354.14H1704.57V353.82H1707.18V352.95H1709.78V350.57H1712.39V347.09H1715V343.61H1717.61V341.29H1720.22V339.98H1722.82V339.06H1725.43V338.54H1728.04V338.02H1730.65V334.27H1733.26V332.07H1735.86V330.75H1738.47V330.56H1741.08V330.36H1743.69V330.17H1746.29V329.15H1748.9V326.54H1751.51V324.64H1754.12V323.33H1756.73V323.07H1759.33V321.35H1761.94V316.16H1764.55V313.55H1767.16V311.87H1769.76V310.57H1772.37V308.97H1774.98V306.96H1777.59V303.49H1780.2V301.21H1782.8V299.64H1785.41V299.11H1788.02V299.28H1790.63V299.45H1793.24V302.35H1795.84V310.69H1798.45V323.38H1801.06V336.07H1803.67V345.05H1806.27V350.98H1808.88V354.2H1811.49V354.85H1814.1V352.08H1816.71V345.27H1819.31V339.57H1821.92V333.58H1824.53V328.71H1827.14V328.71H1829.75V328.71H1832.35V328.71H1834.96V336.1H1837.57V343.92H1840.18V345.95H1842.78V345.95H1845.39V346.71H1848V357.59Z" fill="#0e99c9"/>
<rect x="1644.5" y="442.75" width="203.5" height="1.6" fill="#359b09"/>
<path d="M1702.15 443.85V436.93H1704.75V427.13H1707.36V425.39H1709.97V423.66H1712.57V421.86H1715.18V419.6H1717.79V418.27H1720.39V417.65H1723V418H1725.6V418.86H1728.21V418.39H1730.82V416.3H1733.42V416.3H1736.03V417.16H1738.63V413.42H1741.24V412.85H1743.85V412.85H1746.45V416.41H1749.06V418.38H1751.66V418.53H1754.27V413.43H1756.88V404.01H1759.48V397.3H1762.09V395.08H1764.69V395.48H1767.3V399.92H1769.91V401.54H1772.51V402.99H1775.12V402.67H1777.73V404.78H1780.33V406.57H1782.94V407.21H1785.54V408.34H1788.15V408.34H1790.76V412.18H1793.36V425.3H1795.97V431.58H1798.57V433.47H1801.18V437.56H1803.79V441.65H1806.39V443.85Z" fill="#359b09"/>
<rect x="1644.5" y="530.29" width="203.5" height="1.6" fill="#359b09"/>
<path d="M1696.84 531.39V528.57H1699.42V523.72H1702V519.98H1704.57V517.75H1707.15V516.42H1709.73V515.63H1712.3V512.54H1714.88V509.28H1717.46V505.84H1720.03V502.4H1722.61V500.03H1725.19V499.17H1727.76V499.06H1730.34V499.31H1732.92V499.74H1735.49V499.35H1738.07V498.03H1740.65V493.73H1743.22V489.78H1745.8V487.65H1748.38V486.56H1750.95V486.3H1753.53V486.04H1756.11V485.77H1758.69V485H1761.26V485H1763.84V485H1766.42V486.45H1768.99V486.68H1771.57V486.79H1774.15V486.89H1776.72V486.99H1779.3V487.1H1781.88V488.7H1784.45V489.75H1787.03V490.57H1789.61V491.94H1792.18V495.76H1794.76V501.71H1797.34V508.64H1799.91V518.19H1802.49V527.67H1805.07V531.39Z" fill="#359b09"/>
<rect x="1644.5" y="617.82" width="203.5" height="1.6" fill="#03393b"/>
<path d="M1722.31 618.92V616.56H1725.23V616.56H1728.14V616.56H1731.06V616.56H1733.98V618.92ZM1792.33 618.92V616.56H1794.81V616.56H1797.29V616.56H1799.76V618.92Z" fill="#03393b"/>
<rect x="1644.5" y="705.35" width="203.5" height="1.6" fill="#03393b"/>
<path d="M1720.72 706.45V703.83H1723.02V703.83H1725.31V703.83H1727.61V706.45ZM1805.86 706.45V702.51H1808.78V702.51H1811.7V706.45ZM1820.98 706.45V701.98H1823.63V700.12H1826.29V703.3H1828.94V706.45Z" fill="#03393b"/>
<rect x="1862.5" y="93.1" width="196" height="1.6" fill="#0707a6"/>
<path d="M1870.85 94.2V85.63H1873.43V84.68H1876.02V84.68H1878.6V81.36H1881.18V63.79H1883.77V54.97H1886.35V54.97H1888.93V58.18H1891.52V58.38H1894.1V58.59H1896.68V60.28H1899.27V60.28H1901.85V62.04H1904.43V61.63H1907.02V60.32H1909.6V60.62H1912.18V64.73H1914.77V77.3H1917.35V80.82H1919.93V82.8H1922.52V83.76H1925.1V84.59H1927.68V87.22H1930.27V94.2Z" fill="#0707a6"/>
<rect x="1862.5" y="180.9" width="196" height="1.6" fill="#0707a6"/>
<path d="M1872.71 182V176.02H1875.33V170.42H1877.95V159.32H1880.57V145.31H1883.2V135.61H1885.82V130.88H1888.44V129.34H1891.07V128.45H1893.69V128.45H1896.31V128.45H1898.94V130.79H1901.56V131.87H1904.18V133.38H1906.81V136.01H1909.43V138.63H1912.05V141.25H1914.67V143.88H1917.3V147.92H1919.92V151.77H1922.54V154.4H1925.17V157.7H1927.79V161.2H1930.41V164.7H1933.04V168.85H1935.66V173.02H1938.28V176.52H1940.9V180.15H1943.53V182Z" fill="#0707a6"/>
<rect x="1862.5" y="268.7" width="196" height="1.6" fill="#0e99c9"/>
<path d="M1879.34 269.8V265.18H1881.92V253.43H1884.5V247.41H1887.09V244.44H1889.67V242.71H1892.25V242.51H1894.83V243.38H1897.42V245.43H1900V246.29H1902.58V252.12H1905.16V253.12H1907.75V253.12H1910.33V254.93H1912.91V260.13H1915.49V266.4H1918.08V266.6H1920.66V266.79H1923.24V266.98H1925.83V267.24H1928.41V269.8ZM1941.67 269.8V267.5H1943.99V267.17H1946.31V267.17H1948.63V267.5H1950.95V269.8Z" fill="#0e99c9"/>
<rect x="1862.5" y="356.49" width="196" height="1.6" fill="#0e99c9"/>
<path d="M1862.89 357.59V356.51H1865.46V355.9H1868.03V355.73H1870.6V355.56H1873.17V355.39H1875.74V353.86H1878.31V338.01H1880.88V325.34H1883.45V315.34H1886.03V312.43H1888.6V310.94H1891.17V310.94H1893.74V313.85H1896.31V315.68H1898.88V317.71H1901.45V320.28H1904.02V321.17H1906.59V321.69H1909.16V322.68H1911.73V325.25H1914.3V327.83H1916.87V330.4H1919.44V333.77H1922.01V336.86H1924.58V339.49H1927.15V343.36H1929.72V348.5H1932.29V349.78H1934.86V350.46H1937.43V350.46H1940V348.95H1942.57V347.81H1945.14V347.81H1947.72V347.81H1950.29V348.61H1952.86V351.08H1955.43V350.22H1958V348.75H1960.57V348.08H1963.14V348.08H1965.71V349.82H1968.28V353.99H1970.85V357.59ZM2054.4 357.59V355.43H2056.39V353.71H2058.38V357.59Z" fill="#0e99c9"/>
<rect x="1862.5" y="442.75" width="196" height="1.6" fill="#359b09"/>
<path d="M1881.99 443.85V429.37H1884.54V418.79H1887.08V412.65H1889.63V407.72H1892.18V404.61H1894.72V403.76H1897.27V406.12H1899.81V408.31H1902.36V413.38H1904.91V408.02H1907.45V404.65H1910V404.43H1912.55V406.79H1915.09V417.62H1917.64V423.46H1920.19V422.4H1922.73V416.23H1925.28V415.77H1927.82V416.62H1930.37V421.6H1932.92V443.85ZM1939.02 443.85V438.76H1941.67V427.44H1944.32V418.82H1946.98V418.33H1949.63V418.69H1952.28V422.36H1954.93V423.46H1957.59V430.75H1960.24V438.05H1962.89V433.81H1965.54V432.21H1968.2V432.21H1970.85V432.21H1973.5V435.4H1976.15V439.34H1978.81V443.85ZM1987.56 443.85V440.9H1990.01V433.9H1992.47V429.79H1994.92V428.98H1997.37V430.1H1999.83V433.77H2002.28V436.64H2004.73V440.46H2007.19V443.85ZM2015.94 443.85V441.49H2018.33V440.33H2020.72V437.52H2023.1V437.52H2025.49V440.4H2027.88V443.85Z" fill="#359b09"/>
<rect x="1862.5" y="530.29" width="196" height="1.6" fill="#359b09"/>
<path d="M1877.21 531.39V525.41H1879.81V510.55H1882.4V496.36H1885V490.2H1887.59V488.94H1890.18V488.86H1892.78V488.78H1895.37V488.7H1897.96V488.61H1900.56V488.53H1903.15V488.45H1905.74V486.69H1908.34V486.59H1910.93V486.59H1913.52V488.22H1916.12V488.45H1918.71V488.45H1921.31V488.45H1923.9V487.12H1926.49V487.12H1929.09V488.98H1931.68V488.98H1934.27V489.24H1936.87V490.3H1939.46V490.3H1942.05V490.3H1944.65V490.45H1947.24V491.61H1949.83V491.35H1952.43V490.98H1955.02V489.96H1957.62V490.3H1960.21V492.9H1962.8V493.46H1965.4V492.14H1967.99V490.93H1970.58V490.3H1973.18V490.3H1975.77V490.3H1978.36V491.95H1980.96V493.49H1983.55V496.85H1986.15V498.23H1988.74V498.88H1991.33V497.28H1993.93V497.62H1996.52V499.5H1999.11V500.46H2001.71V500.57H2004.3V500.69H2006.89V500.81H2009.49V501.11H2012.08V504.49H2014.67V508.34H2017.27V508.34H2019.86V508.34H2022.46V512.1H2025.05V514.77H2027.64V517.36H2030.24V518.4H2032.83V520.65H2035.42V524.96H2038.02V528.97H2040.61V531.39Z" fill="#359b09"/>
<rect x="1862.5" y="617.82" width="196" height="1.6" fill="#03393b"/>
<path d="M1884.11 618.92V613.12H1886.76V613.12H1889.42V618.92ZM1905.07 618.92V616.56H1907.06V616.56H1909.05V618.92ZM1974.3 618.92V616.83H1976.55V616.83H1978.81V618.92ZM2043.79 618.92V616.83H2046.18V616.83H2048.57V618.92Z" fill="#03393b"/>
<rect x="1862.5" y="705.35" width="196" height="1.6" fill="#03393b"/>
<rect x="262.3" y="793.7" width="241.7" height="1.4" fill="#f0877f"/>
<rect x="262.3" y="881.1" width="241.7" height="1.4" fill="#f0877f"/>
<rect x="526" y="792" width="202" height="1.4" fill="#f0877f"/>
<rect x="526" y="879.3" width="202" height="1.4" fill="#f0877f"/>
<rect x="749.6" y="792.1" width="349.2" height="1.4" fill="#f0877f"/>
<rect x="749.6" y="880" width="349.2" height="1.4" fill="#f0877f"/>
<rect x="1120.8" y="793.7" width="213.2" height="1.4" fill="#f0877f"/>
<rect x="1120.8" y="881.9" width="213.2" height="1.4" fill="#f0877f"/>
<rect x="1356.4" y="792.8" width="273.8" height="1.4" fill="#f0877f"/>
<rect x="1356.4" y="879.4" width="273.8" height="1.4" fill="#f0877f"/>
<rect x="1644.5" y="793.3" width="203.5" height="1.4" fill="#f0877f"/>
<rect x="1644.5" y="880.3" width="203.5" height="1.4" fill="#f0877f"/>
<rect x="1862.5" y="793.3" width="196" height="1.4" fill="#f0877f"/>
<rect x="1862.5" y="880.3" width="196" height="1.4" fill="#f0877f"/>
<rect x="303" y="896.3" width="138.3" height="18" fill="#0909b6"/>
<rect x="337.73" y="892" width="3.07" height="25" fill="#0909b6"/>
<rect x="355.73" y="892" width="74.66" height="25" fill="#0909b6"/>
<polyline points="324.58,901.7 329.78,905.3 324.58,908.9" fill="none" stroke="#dfe3ff" stroke-width="1.1"/>
<polyline points="375.97,901.7 381.17,905.3 375.97,908.9" fill="none" stroke="#dfe3ff" stroke-width="1.1"/>
<polyline points="426.91,901.7 432.11,905.3 426.91,908.9" fill="none" stroke="#dfe3ff" stroke-width="1.1"/>
<rect x="563.5" y="894.1" width="142.7" height="17.6" fill="#0909b6"/>
<rect x="573.12" y="890.2" width="75.1" height="24.1" fill="#0909b6"/>
<rect x="663.59" y="890.2" width="3.07" height="24.1" fill="#0909b6"/>
<polyline points="594.17,899.3 588.97,902.9 594.17,906.5" fill="none" stroke="#dfe3ff" stroke-width="1.1"/>
<polyline points="645.11,899.3 639.91,902.9 645.11,906.5" fill="none" stroke="#dfe3ff" stroke-width="1.1"/>
<polyline points="695.62,899.3 690.42,902.9 695.62,906.5" fill="none" stroke="#dfe3ff" stroke-width="1.1"/>
<rect x="771.86" y="894.4" width="284.25" height="16.8" fill="#0909b6"/>
<rect x="792.79" y="890.3" width="15.22" height="24.7" fill="#0909b6"/>
<rect x="823.23" y="890.3" width="8.37" height="24.7" fill="#0909b6"/>
<rect x="840.35" y="890.3" width="6.47" height="24.7" fill="#0909b6"/>
<rect x="857.47" y="890.3" width="3.04" height="24.7" fill="#0909b6"/>
<rect x="866.99" y="890.3" width="7.61" height="24.7" fill="#0909b6"/>
<rect x="879.54" y="890.3" width="6.47" height="24.7" fill="#0909b6"/>
<rect x="896.67" y="890.3" width="3.04" height="24.7" fill="#0909b6"/>
<rect x="915.31" y="890.3" width="3.81" height="24.7" fill="#0909b6"/>
<rect x="925.97" y="890.3" width="3.81" height="24.7" fill="#0909b6"/>
<rect x="938.52" y="890.3" width="4.57" height="24.7" fill="#0909b6"/>
<rect x="954.51" y="890.3" width="3.04" height="24.7" fill="#0909b6"/>
<rect x="967.82" y="890.3" width="3.81" height="24.7" fill="#0909b6"/>
<rect x="973.53" y="890.3" width="3.81" height="24.7" fill="#0909b6"/>
<rect x="984.19" y="890.3" width="3.81" height="24.7" fill="#0909b6"/>
<rect x="1002.07" y="890.3" width="2.66" height="24.7" fill="#0909b6"/>
<rect x="1037.46" y="890.3" width="5.33" height="24.7" fill="#0909b6"/>
<polyline points="803,899.2 797.8,902.8 803,906.4" fill="none" stroke="#dfe3ff" stroke-width="1.1"/>
<polyline points="854.37,899.2 849.17,902.8 854.37,906.4" fill="none" stroke="#dfe3ff" stroke-width="1.1"/>
<polyline points="904.97,899.2 899.77,902.8 904.97,906.4" fill="none" stroke="#dfe3ff" stroke-width="1.1"/>
<polyline points="956.34,899.2 951.14,902.8 956.34,906.4" fill="none" stroke="#dfe3ff" stroke-width="1.1"/>
<polyline points="1007.33,899.2 1002.13,902.8 1007.33,906.4" fill="none" stroke="#dfe3ff" stroke-width="1.1"/>
<polyline points="1057.18,899.2 1051.98,902.8 1057.18,906.4" fill="none" stroke="#dfe3ff" stroke-width="1.1"/>
<rect x="1156.94" y="896.3" width="137.75" height="17.6" fill="#0909b6"/>
<rect x="1179.01" y="892.5" width="13.32" height="25.2" fill="#0909b6"/>
<rect x="1211.35" y="892.5" width="8.37" height="25.2" fill="#0909b6"/>
<rect x="1228.48" y="892.5" width="6.47" height="25.2" fill="#0909b6"/>
<rect x="1248.65" y="892.5" width="22.45" height="25.2" fill="#0909b6"/>
<polyline points="1178.31,901.5 1183.51,905.1 1178.31,908.7" fill="none" stroke="#dfe3ff" stroke-width="1.1"/>
<polyline points="1229.68,901.5 1234.88,905.1 1229.68,908.7" fill="none" stroke="#dfe3ff" stroke-width="1.1"/>
<polyline points="1281.05,901.5 1286.25,905.1 1281.05,908.7" fill="none" stroke="#dfe3ff" stroke-width="1.1"/>
<rect x="1388.72" y="894.4" width="221.85" height="16.6" fill="#0909b6"/>
<rect x="1460.93" y="890" width="75.69" height="25" fill="#0909b6"/>
<rect x="1587.96" y="890" width="15.23" height="25" fill="#0909b6"/>
<polyline points="1410.05,899.1 1415.25,902.7 1410.05,906.3" fill="none" stroke="#dfe3ff" stroke-width="1.1"/>
<polyline points="1460.94,899.1 1466.14,902.7 1460.94,906.3" fill="none" stroke="#dfe3ff" stroke-width="1.1"/>
<polyline points="1511.4,899.1 1516.6,902.7 1511.4,906.3" fill="none" stroke="#dfe3ff" stroke-width="1.1"/>
<polyline points="1561.86,899.1 1567.06,902.7 1561.86,906.3" fill="none" stroke="#dfe3ff" stroke-width="1.1"/>
<rect x="1670.61" y="894.4" width="135.72" height="17.4" fill="#0909b6"/>
<rect x="1693.23" y="890" width="6.09" height="25" fill="#0909b6"/>
<rect x="1705.41" y="890" width="17.4" height="25" fill="#0909b6"/>
<rect x="1740.21" y="890" width="45.68" height="25" fill="#0909b6"/>
<polyline points="1701.48,899.5 1696.28,903.1 1701.48,906.7" fill="none" stroke="#dfe3ff" stroke-width="1.1"/>
<polyline points="1751.94,899.5 1746.74,903.1 1751.94,906.7" fill="none" stroke="#dfe3ff" stroke-width="1.1"/>
<polyline points="1802.84,899.5 1797.64,903.1 1802.84,906.7" fill="none" stroke="#dfe3ff" stroke-width="1.1"/>
<rect x="1879.85" y="894.4" width="168.35" height="17.4" fill="#0909b6"/>
<rect x="1908.99" y="890" width="21.75" height="25" fill="#0909b6"/>
<rect x="1944.66" y="890" width="5.22" height="25" fill="#0909b6"/>
<rect x="1954.23" y="890" width="4.35" height="25" fill="#0909b6"/>
<rect x="1962.93" y="890" width="4.35" height="25" fill="#0909b6"/>
<rect x="1971.63" y="890" width="5.22" height="25" fill="#0909b6"/>
<rect x="1989.03" y="890" width="20.01" height="25" fill="#0909b6"/>
<rect x="2016.87" y="890" width="4.35" height="25" fill="#0909b6"/>
<rect x="2025.58" y="890" width="4.35" height="25" fill="#0909b6"/>
<polyline points="1901.61,899.5 1906.81,903.1 1901.61,906.7" fill="none" stroke="#dfe3ff" stroke-width="1.1"/>
<polyline points="1951.63,899.5 1956.83,903.1 1951.63,906.7" fill="none" stroke="#dfe3ff" stroke-width="1.1"/>
<polyline points="2002.09,899.5 2007.29,903.1 2002.09,906.7" fill="none" stroke="#dfe3ff" stroke-width="1.1"/>
<text transform="translate(15.7,43.9) scale(0.8498,1)" font-family="Liberation Sans, Arial, sans-serif" font-size="29" fill="#000" stroke="#000" stroke-width="0.35">a</text>
<rect x="167.9" y="34.6" width="3.6" height="113.1" fill="#231815"/>
<rect x="167.9" y="190.9" width="3.6" height="123.7" fill="#231815"/>
<rect x="167.9" y="368.7" width="3.6" height="123.8" fill="#231815"/>
<rect x="167.9" y="553.4" width="3.6" height="124" fill="#231815"/>
<rect x="167.9" y="753.5" width="3.6" height="123.5" fill="#231815"/>
<text transform="translate(24.9,97) scale(1.0431,1)" font-family="Liberation Sans, Arial, sans-serif" font-size="27.5" fill="#000" stroke="#000" stroke-width="0.35">H3K4me3</text>
<text transform="translate(24.2,267.8) scale(1.0410,1)" font-family="Liberation Sans, Arial, sans-serif" font-size="27.5" fill="#000" stroke="#000" stroke-width="0.35">H3K27ac</text>
<text transform="translate(24.2,432.1) scale(1.0317,1)" font-family="Liberation Sans, Arial, sans-serif" font-size="27.5" fill="#000" stroke="#000" stroke-width="0.35">H3K36me3</text>
<text transform="translate(24.2,623.1) scale(1.0317,1)" font-family="Liberation Sans, Arial, sans-serif" font-size="27.5" fill="#000" stroke="#000" stroke-width="0.35">H3K27me3</text>
<text transform="translate(24.2,814.7) scale(1.0332,1)" font-family="Liberation Sans, Arial, sans-serif" font-size="27.5" fill="#000" stroke="#000" stroke-width="0.35">H3K9me2</text>
<text transform="translate(196.9,78) scale(1.0266,1)" font-family="Liberation Sans, Arial, sans-serif" font-size="27.5" fill="#000" stroke="#000" stroke-width="0.35">WT</text>
<text transform="translate(190.9,152.8) scale(0.9887,1)" font-family="Liberation Sans, Arial, sans-serif" font-size="27.5" fill="#000" stroke="#000" stroke-width="0.35">Syn</text>
<text transform="translate(190.4,255.8) scale(1.0102,1)" font-family="Liberation Sans, Arial, sans-serif" font-size="27.5" fill="#000" stroke="#000" stroke-width="0.35">WT</text>
<text transform="translate(190.9,323.2) scale(0.9887,1)" font-family="Liberation Sans, Arial, sans-serif" font-size="27.5" fill="#000" stroke="#000" stroke-width="0.35">Syn</text>
<text transform="translate(190.4,417.8) scale(1.0102,1)" font-family="Liberation Sans, Arial, sans-serif" font-size="27.5" fill="#000" stroke="#000" stroke-width="0.35">WT</text>
<text transform="translate(192.8,490.5) scale(0.9950,1)" font-family="Liberation Sans, Arial, sans-serif" font-size="27.5" fill="#000" stroke="#000" stroke-width="0.35">Syn</text>
<text transform="translate(192.8,600.5) scale(1.0102,1)" font-family="Liberation Sans, Arial, sans-serif" font-size="27.5" fill="#000" stroke="#000" stroke-width="0.35">WT</text>
<text transform="translate(192.8,689.6) scale(0.9950,1)" font-family="Liberation Sans, Arial, sans-serif" font-size="27.5" fill="#000" stroke="#000" stroke-width="0.35">Syn</text>
<text transform="translate(192.8,793.5) scale(1.0102,1)" font-family="Liberation Sans, Arial, sans-serif" font-size="27.5" fill="#000" stroke="#000" stroke-width="0.35">WT</text>
<text transform="translate(192.8,884) scale(0.9950,1)" font-family="Liberation Sans, Arial, sans-serif" font-size="27.5" fill="#000" stroke="#000" stroke-width="0.35">Syn</text>
<text transform="translate(182.4,919.7) scale(1.0315,1)" font-family="Liberation Sans, Arial, sans-serif" font-size="27.5" fill="#000" stroke="#000" stroke-width="0.35">genes</text>
<text transform="translate(304,962) scale(1.0420,1)" font-family="Liberation Sans, Arial, sans-serif" font-size="27.5" fill="#000" stroke="#000" stroke-width="0.35">Pp3c18_40</text>
<text transform="translate(563,962) scale(1.0456,1)" font-family="Liberation Sans, Arial, sans-serif" font-size="27.5" fill="#000" stroke="#000" stroke-width="0.35">Pp3c18_50</text>
<text transform="translate(843.4,962) scale(1.0392,1)" font-family="Liberation Sans, Arial, sans-serif" font-size="27.5" fill="#000" stroke="#000" stroke-width="0.35">Pp3c18_60</text>
<text transform="translate(1158,962) scale(1.0349,1)" font-family="Liberation Sans, Arial, sans-serif" font-size="27.5" fill="#000" stroke="#000" stroke-width="0.35">Pp3c18_90</text>
<text transform="translate(1362.6,962) scale(1.0470,1)" font-family="Liberation Sans, Arial, sans-serif" font-size="27.5" fill="#000" stroke="#000" stroke-width="0.35">Pp3c18_140(deleted)</text>
<text transform="translate(1670.6,962) scale(1.0368,1)" font-family="Liberation Sans, Arial, sans-serif" font-size="27.5" fill="#000" stroke="#000" stroke-width="0.35">Pp3c18_170</text>
<text transform="translate(1886,962) scale(1.0336,1)" font-family="Liberation Sans, Arial, sans-serif" font-size="27.5" fill="#000" stroke="#000" stroke-width="0.35">Pp3c18_200</text>
</g>
<g id="sec-b">
<text transform="translate(16.7,993.4) scale(0.8201,1)" font-family="Liberation Sans, Arial, sans-serif" font-size="29" fill="#000" stroke="#000" stroke-width="0.35">b</text>
<rect x="150" y="1507.17" width="934" height="2.4" fill="#d9d9d9"/>
<rect x="150" y="1424.74" width="934" height="2.4" fill="#d9d9d9"/>
<rect x="150" y="1342.31" width="934" height="2.4" fill="#d9d9d9"/>
<rect x="150" y="1259.88" width="934" height="2.4" fill="#d9d9d9"/>
<rect x="150" y="1177.45" width="934" height="2.4" fill="#d9d9d9"/>
<rect x="150" y="1095.02" width="934" height="2.4" fill="#d9d9d9"/>
<rect x="150" y="1012.59" width="934" height="2.4" fill="#d9d9d9"/>
<rect x="150" y="1589.6" width="17" height="2.4" fill="#d9d9d9"/>
<rect x="167" y="1486.53" width="25.5" height="104.27" fill="#568d31"/>
<rect x="192.4" y="1484.05" width="25.5" height="106.75" fill="#86c355"/>
<rect x="217.8" y="1479.93" width="25.5" height="110.87" fill="#b8de9f"/>
<rect x="243.2" y="1488.59" width="25.5" height="102.21" fill="#f5b183"/>
<rect x="268.6" y="1489.82" width="25.5" height="100.98" fill="#f8c9a9"/>
<rect x="294" y="1492.91" width="25.5" height="97.89" fill="#fde0cc"/>
<rect x="353.75" y="1456.23" width="25.5" height="134.57" fill="#568d31"/>
<rect x="379.15" y="1446.55" width="25.5" height="144.25" fill="#86c355"/>
<rect x="404.55" y="1445.93" width="25.5" height="144.87" fill="#b8de9f"/>
<rect x="429.95" y="1445.31" width="25.5" height="145.49" fill="#f5b183"/>
<rect x="455.35" y="1447.17" width="25.5" height="143.63" fill="#f8c9a9"/>
<rect x="480.75" y="1444.07" width="25.5" height="146.73" fill="#fde0cc"/>
<rect x="540.5" y="1516.2" width="25.5" height="74.6" fill="#568d31"/>
<rect x="565.9" y="1517.44" width="25.5" height="73.36" fill="#86c355"/>
<rect x="591.3" y="1517.44" width="25.5" height="73.36" fill="#b8de9f"/>
<rect x="616.7" y="1516.74" width="25.5" height="74.06" fill="#f5b183"/>
<rect x="642.1" y="1516.74" width="25.5" height="74.06" fill="#f8c9a9"/>
<rect x="667.5" y="1515.38" width="25.5" height="75.42" fill="#fde0cc"/>
<rect x="727.25" y="1552.88" width="25.5" height="37.92" fill="#568d31"/>
<rect x="752.65" y="1556.18" width="25.5" height="34.62" fill="#86c355"/>
<rect x="778.05" y="1556.59" width="25.5" height="34.21" fill="#b8de9f"/>
<rect x="803.45" y="1553.46" width="25.5" height="37.34" fill="#f5b183"/>
<rect x="828.85" y="1555.36" width="25.5" height="35.44" fill="#f8c9a9"/>
<rect x="854.25" y="1551.65" width="25.5" height="39.15" fill="#fde0cc"/>
<rect x="914" y="1118.06" width="25.5" height="472.74" fill="#568d31"/>
<rect x="939.4" y="1214.09" width="25.5" height="376.71" fill="#86c355"/>
<rect x="964.8" y="1099.52" width="25.5" height="491.28" fill="#b8de9f"/>
<rect x="990.2" y="1109.82" width="25.5" height="480.98" fill="#f5b183"/>
<rect x="1015.6" y="1092.92" width="25.5" height="497.88" fill="#f8c9a9"/>
<rect x="1041" y="1115.59" width="25.5" height="475.21" fill="#fde0cc"/>
<rect x="165.2" y="1000.5" width="3.5" height="591.7" fill="#000"/>
<rect x="165.2" y="1588.6" width="918.8" height="3.5" fill="#000"/>
<text transform="translate(147.5,1601.2) scale(1.0200,1)" font-family="Liberation Sans, Arial, sans-serif" font-size="27.5" fill="#000" text-anchor="end" stroke="#000" stroke-width="0.35">0</text>
<text transform="translate(147.5,1518.77) scale(1.0200,1)" font-family="Liberation Sans, Arial, sans-serif" font-size="27.5" fill="#000" text-anchor="end" stroke="#000" stroke-width="0.35">20,000</text>
<text transform="translate(147.5,1436.34) scale(1.0200,1)" font-family="Liberation Sans, Arial, sans-serif" font-size="27.5" fill="#000" text-anchor="end" stroke="#000" stroke-width="0.35">40,000</text>
<text transform="translate(147.5,1353.91) scale(1.0200,1)" font-family="Liberation Sans, Arial, sans-serif" font-size="27.5" fill="#000" text-anchor="end" stroke="#000" stroke-width="0.35">60,000</text>
<text transform="translate(147.5,1271.48) scale(1.0200,1)" font-family="Liberation Sans, Arial, sans-serif" font-size="27.5" fill="#000" text-anchor="end" stroke="#000" stroke-width="0.35">80,000</text>
<text transform="translate(147.5,1189.05) scale(1.0200,1)" font-family="Liberation Sans, Arial, sans-serif" font-size="27.5" fill="#000" text-anchor="end" stroke="#000" stroke-width="0.35">100,000</text>
<text transform="translate(147.5,1106.62) scale(1.0200,1)" font-family="Liberation Sans, Arial, sans-serif" font-size="27.5" fill="#000" text-anchor="end" stroke="#000" stroke-width="0.35">120,000</text>
<text transform="translate(147.5,1024.19) scale(1.0200,1)" font-family="Liberation Sans, Arial, sans-serif" font-size="27.5" fill="#000" text-anchor="end" stroke="#000" stroke-width="0.35">140,000</text>
<text transform="translate(179,1624) scale(1.0390,1)" font-family="Liberation Sans, Arial, sans-serif" font-size="27.5" fill="#000" stroke="#000" stroke-width="0.35">H3K4me3</text>
<text transform="translate(367,1624) scale(1.0366,1)" font-family="Liberation Sans, Arial, sans-serif" font-size="27.5" fill="#000" stroke="#000" stroke-width="0.35">H3K27ac</text>
<text transform="translate(546,1624) scale(1.0390,1)" font-family="Liberation Sans, Arial, sans-serif" font-size="27.5" fill="#000" stroke="#000" stroke-width="0.35">H3K36me3</text>
<text transform="translate(733,1624) scale(1.0390,1)" font-family="Liberation Sans, Arial, sans-serif" font-size="27.5" fill="#000" stroke="#000" stroke-width="0.35">H3K27me3</text>
<text transform="translate(925.5,1624) scale(1.0324,1)" font-family="Liberation Sans, Arial, sans-serif" font-size="27.5" fill="#000" stroke="#000" stroke-width="0.35">H3K9me2</text>
<text transform="translate(23.5,1314) rotate(-90) scale(1.04,1)" font-family="Liberation Sans, Arial, sans-serif" font-size="27.5" fill="#000" stroke="#000" stroke-width="0.35">Counts</text>
<rect x="1152" y="1526.45" width="888.3" height="2.4" fill="#d9d9d9"/>
<rect x="1152" y="1461.7" width="888.3" height="2.4" fill="#d9d9d9"/>
<rect x="1152" y="1396.95" width="888.3" height="2.4" fill="#d9d9d9"/>
<rect x="1152" y="1332.2" width="888.3" height="2.4" fill="#d9d9d9"/>
<rect x="1152" y="1267.45" width="888.3" height="2.4" fill="#d9d9d9"/>
<rect x="1152" y="1202.7" width="888.3" height="2.4" fill="#d9d9d9"/>
<rect x="1152" y="1137.95" width="888.3" height="2.4" fill="#d9d9d9"/>
<rect x="1152" y="1073.2" width="888.3" height="2.4" fill="#d9d9d9"/>
<rect x="1152" y="1008.45" width="888.3" height="2.4" fill="#d9d9d9"/>
<rect x="1152" y="1591.2" width="10" height="2.4" fill="#d9d9d9"/>
<rect x="1161.5" y="1488.8" width="26.05" height="103.6" fill="#568d31"/>
<rect x="1187.45" y="1488.8" width="26.05" height="103.6" fill="#86c355"/>
<rect x="1213.4" y="1488.8" width="26.05" height="103.6" fill="#b8de9f"/>
<rect x="1239.35" y="1488.8" width="26.05" height="103.6" fill="#f5b183"/>
<rect x="1265.3" y="1488.8" width="26.05" height="103.6" fill="#f8c9a9"/>
<rect x="1291.25" y="1488.8" width="26.05" height="103.6" fill="#fde0cc"/>
<rect x="1339.4" y="1488.8" width="26.05" height="103.6" fill="#568d31"/>
<rect x="1365.35" y="1488.8" width="26.05" height="103.6" fill="#86c355"/>
<rect x="1391.3" y="1488.8" width="26.05" height="103.6" fill="#b8de9f"/>
<rect x="1417.25" y="1449.95" width="26.05" height="142.45" fill="#f5b183"/>
<rect x="1443.2" y="1449.95" width="26.05" height="142.45" fill="#f8c9a9"/>
<rect x="1469.15" y="1449.95" width="26.05" height="142.45" fill="#fde0cc"/>
<rect x="1517.3" y="1501.75" width="26.05" height="90.65" fill="#568d31"/>
<rect x="1543.25" y="1501.75" width="26.05" height="90.65" fill="#86c355"/>
<rect x="1569.2" y="1501.75" width="26.05" height="90.65" fill="#b8de9f"/>
<rect x="1595.15" y="1514.7" width="26.05" height="77.7" fill="#f5b183"/>
<rect x="1621.1" y="1514.7" width="26.05" height="77.7" fill="#f8c9a9"/>
<rect x="1647.05" y="1514.7" width="26.05" height="77.7" fill="#fde0cc"/>
<rect x="1695.2" y="1566.5" width="26.05" height="25.9" fill="#568d31"/>
<rect x="1721.15" y="1566.5" width="26.05" height="25.9" fill="#86c355"/>
<rect x="1747.1" y="1566.5" width="26.05" height="25.9" fill="#b8de9f"/>
<rect x="1773.05" y="1553.55" width="26.05" height="38.85" fill="#f5b183"/>
<rect x="1799" y="1553.55" width="26.05" height="38.85" fill="#f8c9a9"/>
<rect x="1824.95" y="1553.55" width="26.05" height="38.85" fill="#fde0cc"/>
<rect x="1873.1" y="1061.45" width="26.05" height="530.95" fill="#568d31"/>
<rect x="1899.05" y="1113.25" width="26.05" height="479.15" fill="#86c355"/>
<rect x="1925" y="1061.45" width="26.05" height="530.95" fill="#b8de9f"/>
<rect x="1950.95" y="1579.45" width="26.05" height="12.95" fill="#f5b183"/>
<rect x="1976.9" y="1579.45" width="26.05" height="12.95" fill="#f8c9a9"/>
<rect x="2002.85" y="1579.45" width="26.05" height="12.95" fill="#fde0cc"/>
<rect x="1159.2" y="1003.4" width="3.4" height="590.6" fill="#000"/>
<rect x="1159.2" y="1590.6" width="920.8" height="3.4" fill="#000"/>
<text transform="translate(1142,1601.9) scale(1.0200,1)" font-family="Liberation Sans, Arial, sans-serif" font-size="27.5" fill="#000" text-anchor="end" stroke="#000" stroke-width="0.35">0</text>
<text transform="translate(1142,1472.4) scale(1.0200,1)" font-family="Liberation Sans, Arial, sans-serif" font-size="27.5" fill="#000" text-anchor="end" stroke="#000" stroke-width="0.35">10</text>
<text transform="translate(1142,1342.9) scale(1.0200,1)" font-family="Liberation Sans, Arial, sans-serif" font-size="27.5" fill="#000" text-anchor="end" stroke="#000" stroke-width="0.35">20</text>
<text transform="translate(1142,1213.4) scale(1.0200,1)" font-family="Liberation Sans, Arial, sans-serif" font-size="27.5" fill="#000" text-anchor="end" stroke="#000" stroke-width="0.35">30</text>
<text transform="translate(1142,1083.9) scale(1.0200,1)" font-family="Liberation Sans, Arial, sans-serif" font-size="27.5" fill="#000" text-anchor="end" stroke="#000" stroke-width="0.35">40</text>
<text transform="translate(1178.4,1622.3) scale(1.0398,1)" font-family="Liberation Sans, Arial, sans-serif" font-size="27.5" fill="#000" stroke="#000" stroke-width="0.35">H3K4me3</text>
<text transform="translate(1362,1622.3) scale(1.0427,1)" font-family="Liberation Sans, Arial, sans-serif" font-size="27.5" fill="#000" stroke="#000" stroke-width="0.35">H3K27ac</text>
<text transform="translate(1529,1622.3) scale(1.0346,1)" font-family="Liberation Sans, Arial, sans-serif" font-size="27.5" fill="#000" stroke="#000" stroke-width="0.35">H3K36me3</text>
<text transform="translate(1699.5,1622.3) scale(1.0382,1)" font-family="Liberation Sans, Arial, sans-serif" font-size="27.5" fill="#000" stroke="#000" stroke-width="0.35">H3K27me3</text>
<text transform="translate(1884,1622.3) scale(1.0291,1)" font-family="Liberation Sans, Arial, sans-serif" font-size="27.5" fill="#000" stroke="#000" stroke-width="0.35">H3K9me2</text>
<rect x="959.1" y="1651.6" width="48.6" height="47.4" fill="#568d31"/>
<rect x="1016.2" y="1651.6" width="48.3" height="47.4" fill="#86c355"/>
<rect x="1073.3" y="1651.6" width="48.3" height="47.4" fill="#b8de9f"/>
<rect x="1138" y="1651.6" width="48" height="47.4" fill="#f5b183"/>
<rect x="1194.8" y="1651.6" width="48.3" height="47.4" fill="#f8c9a9"/>
<rect x="1255.7" y="1651.6" width="48.3" height="47.4" fill="#fde0cc"/>
<text transform="translate(954.7,1721) scale(0.9636,1)" font-family="Liberation Sans, Arial, sans-serif" font-size="27.5" fill="#000" stroke="#000" stroke-width="0.35">rep1</text>
<text transform="translate(1012,1721) scale(0.9982,1)" font-family="Liberation Sans, Arial, sans-serif" font-size="27.5" fill="#000" stroke="#000" stroke-width="0.35">rep2</text>
<text transform="translate(1069.8,1721) scale(1.0109,1)" font-family="Liberation Sans, Arial, sans-serif" font-size="27.5" fill="#000" stroke="#000" stroke-width="0.35">rep3</text>
<text transform="translate(1132.7,1721) scale(0.9582,1)" font-family="Liberation Sans, Arial, sans-serif" font-size="27.5" fill="#000" stroke="#000" stroke-width="0.35">rep1</text>
<text transform="translate(1189.8,1721) scale(0.9673,1)" font-family="Liberation Sans, Arial, sans-serif" font-size="27.5" fill="#000" stroke="#000" stroke-width="0.35">rep2</text>
<text transform="translate(1252,1721) scale(1.0000,1)" font-family="Liberation Sans, Arial, sans-serif" font-size="27.5" fill="#000" stroke="#000" stroke-width="0.35">rep3</text>
<rect x="959" y="1728.6" width="162" height="3.6" fill="#231815"/>
<rect x="1142.4" y="1728.6" width="161.6" height="3.6" fill="#231815"/>
<text transform="translate(1020.6,1758.2) scale(0.9658,1)" font-family="Liberation Sans, Arial, sans-serif" font-size="27.5" fill="#000" stroke="#000" stroke-width="0.35">WT</text>
<text transform="translate(1199.2,1758.2) scale(1.0055,1)" font-family="Liberation Sans, Arial, sans-serif" font-size="27.5" fill="#000" stroke="#000" stroke-width="0.35">Syn</text>
</g>
<g id="sec-c">
<text transform="translate(16.2,1841.7) scale(0.8828,1)" font-family="Liberation Sans, Arial, sans-serif" font-size="29" fill="#000" stroke="#000" stroke-width="0.35">c</text>
<text transform="translate(314.3,1840.4) scale(1.0397,1)" font-family="Liberation Sans, Arial, sans-serif" font-size="27.5" fill="#000" stroke="#000" stroke-width="0.35">Designed</text>
<text transform="translate(291.5,1875.5) scale(1.0475,1)" font-family="Liberation Sans, Arial, sans-serif" font-size="27.5" fill="#000" stroke="#000" stroke-width="0.35">chromosome</text>
<polyline points="466,1839 488.2,1866 506.4,1843.2 528.6,1866 553.9,1838" fill="none" stroke="#000" stroke-width="2.2" stroke-linejoin="miter"/>
<polyline points="1932.8,1837.5 1962.8,1815.6 1989.4,1834.9 2013,1815.6 2035.4,1838" fill="none" stroke="#000" stroke-width="2.2"/>
<rect x="552.4" y="1835.8" width="1382" height="3.6" fill="#000"/>
<rect x="552.4" y="1836" width="3" height="50" fill="#000"/>
<rect x="1032.8" y="1836" width="3" height="50" fill="#000"/>
<rect x="1551.5" y="1836" width="3" height="50" fill="#000"/>
<rect x="1931.3" y="1836" width="3" height="50" fill="#000"/>
<text transform="translate(565.2,1850.1) scale(0.7972,1)" font-family="Liberation Sans, Arial, sans-serif" font-size="33.2" fill="#000" font-weight="bold" stroke="#000" stroke-width="0.9">X</text>
<text transform="translate(1054.7,1850.1) scale(0.7972,1)" font-family="Liberation Sans, Arial, sans-serif" font-size="33.2" fill="#000" font-weight="bold" stroke="#000" stroke-width="0.9">X</text>
<text transform="translate(1093.3,1850.1) scale(0.7972,1)" font-family="Liberation Sans, Arial, sans-serif" font-size="33.2" fill="#000" font-weight="bold" stroke="#000" stroke-width="0.9">X</text>
<text transform="translate(1112.6,1850.1) scale(0.7972,1)" font-family="Liberation Sans, Arial, sans-serif" font-size="33.2" fill="#000" font-weight="bold" stroke="#000" stroke-width="0.9">X</text>
<text transform="translate(1292.8,1850.1) scale(0.7972,1)" font-family="Liberation Sans, Arial, sans-serif" font-size="33.2" fill="#000" font-weight="bold" stroke="#000" stroke-width="0.9">X</text>
<text transform="translate(1354.3,1850.1) scale(0.7972,1)" font-family="Liberation Sans, Arial, sans-serif" font-size="33.2" fill="#000" font-weight="bold" stroke="#000" stroke-width="0.9">X</text>
<text transform="translate(1386.3,1850.1) scale(0.7972,1)" font-family="Liberation Sans, Arial, sans-serif" font-size="33.2" fill="#000" font-weight="bold" stroke="#000" stroke-width="0.9">X</text>
<text transform="translate(1416.3,1850.1) scale(0.7972,1)" font-family="Liberation Sans, Arial, sans-serif" font-size="33.2" fill="#000" font-weight="bold" stroke="#000" stroke-width="0.9">X</text>
<text transform="translate(1431.2,1850.1) scale(0.7972,1)" font-family="Liberation Sans, Arial, sans-serif" font-size="33.2" fill="#000" font-weight="bold" stroke="#000" stroke-width="0.9">X</text>
<text transform="translate(1451.9,1850.1) scale(0.7972,1)" font-family="Liberation Sans, Arial, sans-serif" font-size="33.2" fill="#000" font-weight="bold" stroke="#000" stroke-width="0.9">X</text>
<text transform="translate(1518,1850.1) scale(0.7972,1)" font-family="Liberation Sans, Arial, sans-serif" font-size="33.2" fill="#000" font-weight="bold" stroke="#000" stroke-width="0.9">X</text>
<text transform="translate(531.9,1917) scale(0.9853,1)" font-family="Liberation Sans, Arial, sans-serif" font-size="28" fill="#000" font-weight="bold" stroke="#000" stroke-width="0.4">0 K</text>
<text transform="translate(1003.9,1917) scale(0.9936,1)" font-family="Liberation Sans, Arial, sans-serif" font-size="28" fill="#000" font-weight="bold" stroke="#000" stroke-width="0.4">25 K</text>
<text transform="translate(1523.2,1917) scale(0.9885,1)" font-family="Liberation Sans, Arial, sans-serif" font-size="28" fill="#000" font-weight="bold" stroke="#000" stroke-width="0.4">50 K</text>
<text transform="translate(1868.6,1917) scale(1.0239,1)" font-family="Liberation Sans, Arial, sans-serif" font-size="28" fill="#000" font-weight="bold" stroke="#000" stroke-width="0.4">68.530 K</text>
<polygon points="632.9,1905.8 690.9,1905.8 711.9,1929.3 690.9,1951.4 632.9,1951.4" fill="#34a159"/>
<circle cx="713.7" cy="1929.3" r="5.2" fill="#7db7ea" stroke="#1a1a1a" stroke-width="1.3"/>
<polygon points="833.8,1875.2 776.9,1875.2 759.4,1897 776.9,1919.5 833.8,1919.5" fill="#34a159"/>
<circle cx="756.2" cy="1897" r="5.2" fill="#7db7ea" stroke="#1a1a1a" stroke-width="1.3"/>
<polygon points="1002,1875.2 893.1,1875.2 862.5,1897 893.1,1919.5 1002,1919.5" fill="#34a159"/>
<circle cx="853.7" cy="1897" r="5.2" fill="#7db7ea" stroke="#1a1a1a" stroke-width="1.3"/>
<polygon points="1181.1,1879.4 1237.4,1879.4 1257.7,1901.2 1237.4,1924 1181.1,1924" fill="#34a159"/>
<circle cx="1259.5" cy="1901.2" r="5.2" fill="#7db7ea" stroke="#1a1a1a" stroke-width="1.3"/>
<polygon points="1644,1875.3 1592.5,1875.3 1573.2,1897.2 1588.2,1919.5 1644,1919.5" fill="#34a159"/>
<circle cx="1569.3" cy="1897.2" r="5.2" fill="#7db7ea" stroke="#1a1a1a" stroke-width="1.3"/>
<polygon points="1739.7,1877 1807.1,1877 1828.5,1898.9 1807.1,1921.2 1739.7,1921.2" fill="#34a159"/>
<circle cx="1831.1" cy="1898.9" r="5.2" fill="#7db7ea" stroke="#1a1a1a" stroke-width="1.3"/>
<polygon points="1880,1955.1 1895,1955.1 1900.6,1977.4 1895,2000.2 1880,2000.2" fill="#b9dfb1"/>
<text transform="translate(571.4,1892.4) scale(1.0356,1)" font-family="Liberation Sans, Arial, sans-serif" font-size="27.5" fill="#000" font-style="italic" stroke="#000" stroke-width="0.35">Pp3c18_40</text>
<text transform="translate(711.2,1866) scale(1.0291,1)" font-family="Liberation Sans, Arial, sans-serif" font-size="27.5" fill="#000" font-style="italic" stroke="#000" stroke-width="0.35">Pp3c18_50</text>
<text transform="translate(873.8,1866) scale(1.0349,1)" font-family="Liberation Sans, Arial, sans-serif" font-size="27.5" fill="#000" font-style="italic" stroke="#000" stroke-width="0.35">Pp3c18_60</text>
<text transform="translate(1137.2,1869.6) scale(1.0305,1)" font-family="Liberation Sans, Arial, sans-serif" font-size="27.5" fill="#000" font-style="italic" stroke="#000" stroke-width="0.35">Pp3c18_90</text>
<text transform="translate(1532.4,1865.8) scale(1.0336,1)" font-family="Liberation Sans, Arial, sans-serif" font-size="27.5" fill="#000" font-style="italic" stroke="#000" stroke-width="0.35">Pp3c18_170</text>
<text transform="translate(1698.5,1865.8) scale(1.0368,1)" font-family="Liberation Sans, Arial, sans-serif" font-size="27.5" fill="#000" font-style="italic" stroke="#000" stroke-width="0.35">Pp3c18_200</text>
<text transform="translate(1853.4,1947.4) scale(1.0218,1)" font-family="Liberation Sans, Arial, sans-serif" font-size="27.5" fill="#000" font-style="italic" stroke="#000" stroke-width="0.35">G418</text>
<rect x="267.2" y="2021.3" width="1574.4" height="529.2" fill="#f8f8f9"/>
<rect x="267.2" y="2020.7" width="1574.4" height="1.2" fill="#dadada"/>
<clipPath id="yc"><rect x="541.7" y="2021.3" width="230" height="538.2"/><rect x="863.6" y="2021.3" width="284.3" height="538.2"/><rect x="1197.1" y="2021.3" width="188.3" height="538.2"/><rect x="1432.1" y="2021.3" width="220.6" height="538.2"/><rect x="1677.8" y="2021.3" width="11.9" height="538.2"/><rect x="1721" y="2021.3" width="56.6" height="538.2"/></clipPath>
<rect x="541.7" y="2021.3" width="230" height="538.2" fill="#fafac7"/>
<rect x="863.6" y="2021.3" width="284.3" height="538.2" fill="#fafac7"/>
<rect x="1197.1" y="2021.3" width="188.3" height="538.2" fill="#fafac7"/>
<rect x="1432.1" y="2021.3" width="220.6" height="538.2" fill="#fafac7"/>
<rect x="1677.8" y="2021.3" width="11.9" height="538.2" fill="#fafac7"/>
<rect x="1721" y="2021.3" width="56.6" height="538.2" fill="#fafac7"/>
<path d="M283.2 2146.8V2141.17H284.9V2131.01H286.61V2126.62H288.32V2121.61H290.03V2127.74H291.73V2131.29H293.44V2135.54H295.15V2129.84H296.86V2132.93H298.56V2141.3H300.27V2146.8ZM315.45 2146.8V2145.33H317.03V2142.4H318.61V2145.33H320.19V2146.8ZM322.09 2146.8V2135.41H323.75V2110.9H325.41V2095.21H327.07V2094.25H328.73V2097.14H330.39V2119.92H332.04V2135.81H333.7V2141.96H335.36V2146.8ZM517.95 2146.8V2126.45H519.53V2120.95H521.11V2124.31H522.69V2146.8ZM533.6 2146.8V2115.69H535.26V2110.31H536.92V2106.09H538.58V2112.93H540.24V2146.8ZM560.63 2146.8V2142.89H562.53V2144.46H564.43V2146.8ZM566.8 2146.8V2135.95H568.51V2119.21H570.21V2106.42H571.92V2102.58H573.63V2106.8H575.33V2118.11H577.04V2129.86H578.75V2129.76H580.46V2130.52H582.16V2132.19H583.87V2133.06H585.58V2135.14H587.29V2134.65H588.99V2133.55H590.7V2127.87H592.41V2125.04H594.11V2125.39H595.82V2133.08H597.53V2139.23H599.24V2143.72H600.94V2146.8ZM638.88 2146.8V2142.81H640.65V2135.99H642.41V2135.34H644.17V2133.58H645.93V2134.23H647.69V2137.01H649.45V2142.49H651.21V2146.8ZM660.22 2146.8V2128.8H661.9V2115.7H663.57V2113.05H665.25V2117H666.92V2128.54H668.59V2131.69H670.27V2135.44H671.94V2135.96H673.62V2134.91H675.29V2135.39H676.96V2124.16H678.64V2110.91H680.31V2102.95H681.98V2115.62H683.66V2128.98H685.33V2137.3H687.01V2143.87H688.68V2146.8ZM702.91 2146.8V2120.93H704.69V2073.5H706.46V2055.2H708.24V2056.2H710.02V2074.86H711.8V2108.68H713.58V2133.93H715.36V2143.69H717.13V2146.8ZM718.56 2146.8V2136.32H720.3V2122.56H722.04V2123.27H723.77V2128.38H725.51V2136.04H727.25V2143.67H728.99V2146.8ZM734.68 2146.8V2145.61H736.22V2143.23H737.76V2143.74H739.31V2145.78H740.85V2146.8ZM748.91 2146.8V2130.61H750.81V2112.6H752.7V2120.98H754.6V2137.91H756.5V2146.8ZM763.14 2146.8V2138.36H764.82V2123.7H766.51V2109.08H768.2V2098.81H769.88V2094.56H771.57V2089.61H773.25V2074.8H774.94V2080.02H776.63V2090.62H778.31V2105.75H780V2106.86H781.69V2109.61H783.37V2090.32H785.06V2090.48H786.74V2098.48H788.43V2102.97H790.12V2120.96H791.8V2139.02H793.49V2146.8ZM796.33 2146.8V2136.82H797.91V2117.11H799.5V2109.17H801.08V2106.26H802.66V2119.85H804.24V2136.7H805.82V2146.8ZM808.66 2146.8V2117.69H810.38V2074.85H812.09V2063.78H813.81V2082.92H815.52V2106.3H817.24V2088.2H818.95V2061.68H820.67V2051.59H822.38V2062.04H824.1V2067.68H825.81V2078.87H827.53V2101.73H829.24V2131.18H830.95V2146.8ZM837.12 2146.8V2138.48H838.78V2143.55H840.44V2146.8ZM847.55 2146.8V2141.96H849.29V2134.17H851.03V2130.42H852.77V2129.56H854.51V2131.7H856.25V2134.22H857.99V2137.77H859.73V2140.54H861.46V2144.65H863.2V2146.8ZM865.46 2146.8V2140.06H867.16V2139.18H868.87V2133.78H870.57V2118.8H872.28V2111.49H873.98V2100.83H875.68V2099.49H877.39V2097.48H879.09V2094.22H880.8V2093.05H882.5V2111.23H884.21V2120.78H885.91V2121.38H887.62V2131.55H889.32V2121.31H891.03V2139.06H892.73V2138.07H894.44V2127.67H896.14V2101.45H897.85V2070.02H899.55V2052.88H901.26V2047.73H902.96V2051.99H904.67V2049.99H906.37V2061.87H908.08V2078.58H909.78V2091.5H911.48V2082.78H913.19V2083.11H914.89V2092.77H916.6V2097.53H918.3V2100.35H920.01V2111.01H921.71V2113.1H923.42V2106.64H925.12V2084.64H926.83V2070.28H928.53V2047.38H930.24V2038.4H931.94V2034.1H933.65V2034.1H935.35V2034.1H937.06V2034.1H938.76V2034.6H940.47V2034.1H942.17V2054.54H943.88V2044.93H945.58V2039.4H947.28V2034.1H948.99V2034.65H950.69V2049.28H952.4V2047.69H954.1V2035.97H955.81V2034.1H957.51V2034.1H959.22V2043.67H960.92V2060.51H962.63V2077.59H964.33V2076.86H966.04V2086.68H967.74V2108.62H969.45V2124.21H971.15V2114.04H972.86V2100.8H974.56V2098.97H976.27V2102.41H977.97V2119.78H979.68V2140.65H981.38V2146.8ZM985.89 2146.8V2097.11H987.59V2073.85H989.3V2057.91H991V2057.55H992.71V2060.85H994.41V2067.52H996.12V2070.16H997.82V2078.07H999.53V2081.48H1001.23V2079.86H1002.94V2073.5H1004.64V2078.21H1006.35V2084.55H1008.05V2096.37H1009.75V2109.04H1011.46V2107.6H1013.16V2087.7H1014.87V2067.24H1016.57V2064.19H1018.28V2078.58H1019.98V2099.38H1021.69V2110.28H1023.39V2110.81H1025.1V2104.12H1026.8V2097.26H1028.51V2105.95H1030.21V2121.55H1031.92V2105.6H1033.62V2086.81H1035.33V2063.86H1037.03V2050.17H1038.74V2050.86H1040.44V2052.83H1042.14V2069.83H1043.85V2105.36H1045.55V2105.14H1047.26V2103.17H1048.96V2091.57H1050.67V2086.31H1052.37V2103.09H1054.08V2112.36H1055.78V2120.67H1057.49V2119.58H1059.19V2090.49H1060.9V2065.75H1062.6V2051.38H1064.31V2060.8H1066.01V2073.42H1067.72V2091.17H1069.42V2111.25H1071.13V2141.31H1072.83V2146.8ZM1074.76 2146.8V2113.5H1076.48V2075.03H1078.2V2063.27H1079.91V2067.91H1081.63V2103.53H1083.35V2133.68H1085.07V2146.8ZM1094.08 2146.8V2130.76H1095.63V2105.77H1097.17V2101.97H1098.72V2112.64H1100.27V2134.72H1101.81V2146.8ZM1106.64 2146.8V2127.49H1108.51V2109.17H1110.38V2103.65H1112.24V2120.67H1114.11V2139.59H1115.98V2146.8ZM1118.88 2146.8V2136.01H1120.62V2126.52H1122.36V2127.45H1124.09V2132.17H1125.83V2141.2H1127.57V2146.8ZM1150.43 2146.8V2134.91H1152.04V2126.77H1153.65V2128.08H1155.26V2132.56H1156.87V2134.41H1158.48V2146.8ZM1160.74 2146.8V2129.86H1162.51V2115.63H1164.28V2122.43H1166.05V2140.42H1167.82V2146.8ZM1172.98 2146.8V2136.95H1174.71V2115.19H1176.44V2086.71H1178.18V2069.3H1179.91V2061.83H1181.64V2065.62H1183.38V2073.8H1185.11V2067.84H1186.85V2062.52H1188.58V2060.59H1190.31V2071.48H1192.05V2095.56H1193.78V2139.36H1195.52V2146.8ZM1202.6 2146.8V2137.33H1204.28V2122.52H1205.97V2112.46H1207.65V2104.2H1209.34V2096H1211.02V2084.87H1212.71V2069.68H1214.39V2059.16H1216.08V2051.04H1217.76V2068.05H1219.44V2093H1221.13V2110.18H1222.81V2132.55H1224.5V2146.8ZM1228.36 2146.8V2129.96H1230.07V2102.94H1231.77V2085.56H1233.48V2083.87H1235.19V2084.35H1236.89V2081.74H1238.6V2090.98H1240.31V2104.45H1242.01V2108.08H1243.72V2134.63H1245.43V2146.8ZM1250.9 2146.8V2140.82H1252.56V2128.84H1254.22V2117.29H1255.88V2113.16H1257.54V2083.51H1259.2V2060.57H1260.86V2053.51H1262.52V2039.48H1264.18V2040.14H1265.84V2061.55H1267.5V2082.37H1269.16V2107.17H1270.82V2122.27H1272.48V2146.8ZM1278.27 2146.8V2137.94H1279.88V2138.12H1281.49V2146.8ZM1285.36 2146.8V2134.16H1287.07V2121.92H1288.79V2120.76H1290.51V2114.49H1292.23V2108.38H1293.94V2102.66H1295.66V2102.34H1297.38V2120.5H1299.1V2137H1300.81V2146.8ZM1307.25 2146.8V2130.46H1308.94V2099.81H1310.62V2081.26H1312.31V2086.33H1313.99V2092.82H1315.68V2104.13H1317.36V2108.43H1319.04V2093.85H1320.73V2072.03H1322.41V2086.06H1324.1V2093.56H1325.78V2104.61H1327.47V2129.67H1329.15V2146.8ZM1331.4 2146.8V2112.69H1333.11V2084.49H1334.83V2082.96H1336.54V2081.2H1338.25V2081.73H1339.96V2074.65H1341.67V2056.57H1343.38V2045.01H1345.09V2045.35H1346.8V2038.71H1348.51V2040.58H1350.22V2038.4H1351.93V2034.1H1353.64V2076.75H1355.35V2124.91H1357.06V2141.14H1358.77V2146.8ZM1369.32 2146.8V2131.37H1370.98V2112.16H1372.64V2112.76H1374.3V2121.61H1375.96V2124.06H1377.63V2132.49H1379.29V2121.55H1380.95V2124.03H1382.61V2115.89H1384.27V2116.53H1385.93V2122.73H1387.59V2121.43H1389.25V2123.1H1390.91V2112.58H1392.57V2112.29H1394.23V2112.06H1395.89V2111.11H1397.56V2111.63H1399.22V2124.94H1400.88V2146.8ZM1405.39 2146.8V2132.19H1407.48V2136.32H1409.57V2146.8ZM1433.08 2146.8V2121.02H1434.62V2080.83H1436.17V2079.47H1437.72V2100.14H1439.26V2105.71H1440.81V2146.8ZM1459.48 2146.8V2134.62H1461.17V2113.59H1462.86V2109.53H1464.55V2105.06H1466.25V2100.58H1467.94V2108.73H1469.63V2117.74H1471.32V2129.48H1473.01V2146.8ZM1502.95 2146.8V2127.03H1505.05V2124.3H1507.14V2146.8ZM1531.94 2146.8V2136.68H1533.74V2110.54H1535.54V2088.82H1537.35V2092.63H1539.15V2108.07H1540.95V2146.8ZM1556.09 2146.8V2140.17H1557.7V2130.15H1559.31V2122.31H1560.92V2110.85H1562.53V2101.31H1564.14V2101.58H1565.75V2107.93H1567.36V2110.8H1568.97V2128.14H1570.58V2146.8ZM1584.42 2146.8V2131.25H1586.35V2131.08H1588.29V2146.8ZM1595.37 2146.8V2139.03H1597.02V2123.42H1598.66V2106.94H1600.31V2108.39H1601.95V2108.09H1603.6V2107.79H1605.25V2105.18H1606.89V2107.84H1608.54V2132.05H1610.18V2146.8ZM1612.44 2146.8V2118.52H1614.23V2101.81H1616.02V2083.86H1617.8V2077.8H1619.59V2101.01H1621.38V2117.31H1623.17V2119.34H1624.96V2115.41H1626.75V2128.41H1628.54V2146.8ZM1645.6 2146.8V2139.13H1647.31V2131.02H1649.01V2127.45H1650.71V2124.62H1652.41V2132.02H1654.11V2133.55H1655.82V2141.79H1657.52V2146.8ZM1688.75 2146.8V2123.64H1690.46V2109.85H1692.17V2100.12H1693.87V2091.6H1695.58V2089.72H1697.29V2083.83H1698.99V2085.78H1700.7V2091.08H1702.41V2129.64H1704.11V2132.1H1705.82V2133.8H1707.53V2123.07H1709.23V2094.04H1710.94V2084.85H1712.65V2072.84H1714.35V2076.47H1716.06V2088.22H1717.77V2099.09H1719.47V2111.42H1721.18V2115.95H1722.89V2146.8ZM1725.14 2146.8V2132.11H1727.07V2129.46H1729V2132.63H1730.94V2146.8ZM1736.41 2146.8V2132.34H1738.02V2127.64H1739.63V2127.92H1741.24V2135.16H1742.85V2146.8ZM1753.16 2146.8V2132.03H1754.9V2129.82H1756.65V2130.2H1758.4V2132.61H1760.15V2135.83H1761.9V2140.97H1763.64V2145.9H1765.39V2146.8ZM268.2 2146.8H283.2V2152.6H268.2ZM300.27 2146.8H315.45V2152.6H300.27ZM320.19 2146.8H322.09V2152.6H320.19ZM335.36 2146.8H517.95V2152.6H335.36ZM522.69 2146.8H533.6V2152.6H522.69ZM540.24 2146.8H560.63V2152.6H540.24ZM564.43 2146.8H566.8V2152.6H564.43ZM600.94 2146.8H638.88V2152.6H600.94ZM651.21 2146.8H660.22V2152.6H651.21ZM688.68 2146.8H702.91V2152.6H688.68ZM717.13 2146.8H718.56V2152.6H717.13ZM728.99 2146.8H734.68V2152.6H728.99ZM740.85 2146.8H748.91V2152.6H740.85ZM756.5 2146.8H763.14V2152.6H756.5ZM793.49 2146.8H796.33V2152.6H793.49ZM805.82 2146.8H808.66V2152.6H805.82ZM830.95 2146.8H837.12V2152.6H830.95ZM840.44 2146.8H847.55V2152.6H840.44ZM863.2 2146.8H865.46V2152.6H863.2ZM981.38 2146.8H985.89V2152.6H981.38ZM1072.83 2146.8H1074.76V2152.6H1072.83ZM1085.07 2146.8H1094.08V2152.6H1085.07ZM1101.81 2146.8H1106.64V2152.6H1101.81ZM1115.98 2146.8H1118.88V2152.6H1115.98ZM1127.57 2146.8H1150.43V2152.6H1127.57ZM1158.48 2146.8H1160.74V2152.6H1158.48ZM1167.82 2146.8H1172.98V2152.6H1167.82ZM1195.52 2146.8H1202.6V2152.6H1195.52ZM1224.5 2146.8H1228.36V2152.6H1224.5ZM1245.43 2146.8H1250.9V2152.6H1245.43ZM1272.48 2146.8H1278.27V2152.6H1272.48ZM1281.49 2146.8H1285.36V2152.6H1281.49ZM1300.81 2146.8H1307.25V2152.6H1300.81ZM1329.15 2146.8H1331.4V2152.6H1329.15ZM1358.77 2146.8H1369.32V2152.6H1358.77ZM1400.88 2146.8H1405.39V2152.6H1400.88ZM1409.57 2146.8H1433.08V2152.6H1409.57ZM1440.81 2146.8H1459.48V2152.6H1440.81ZM1473.01 2146.8H1502.95V2152.6H1473.01ZM1507.14 2146.8H1531.94V2152.6H1507.14ZM1540.95 2146.8H1556.09V2152.6H1540.95ZM1570.58 2146.8H1584.42V2152.6H1570.58ZM1588.29 2146.8H1595.37V2152.6H1588.29ZM1610.18 2146.8H1612.44V2152.6H1610.18ZM1628.54 2146.8H1645.6V2152.6H1628.54ZM1657.52 2146.8H1688.75V2152.6H1657.52ZM1722.89 2146.8H1725.14V2152.6H1722.89ZM1730.94 2146.8H1736.41V2152.6H1730.94ZM1742.85 2146.8H1753.16V2152.6H1742.85ZM1765.39 2146.8H1840.6V2152.6H1765.39Z" fill="#f59c99"/>
<path d="M283.2 2146.8V2141.17H284.9V2131.01H286.61V2126.62H288.32V2121.61H290.03V2127.74H291.73V2131.29H293.44V2135.54H295.15V2129.84H296.86V2132.93H298.56V2141.3H300.27V2146.8ZM315.45 2146.8V2145.33H317.03V2142.4H318.61V2145.33H320.19V2146.8ZM322.09 2146.8V2135.41H323.75V2110.9H325.41V2095.21H327.07V2094.25H328.73V2097.14H330.39V2119.92H332.04V2135.81H333.7V2141.96H335.36V2146.8ZM517.95 2146.8V2126.45H519.53V2120.95H521.11V2124.31H522.69V2146.8ZM533.6 2146.8V2115.69H535.26V2110.31H536.92V2106.09H538.58V2112.93H540.24V2146.8ZM560.63 2146.8V2142.89H562.53V2144.46H564.43V2146.8ZM566.8 2146.8V2135.95H568.51V2119.21H570.21V2106.42H571.92V2102.58H573.63V2106.8H575.33V2118.11H577.04V2129.86H578.75V2129.76H580.46V2130.52H582.16V2132.19H583.87V2133.06H585.58V2135.14H587.29V2134.65H588.99V2133.55H590.7V2127.87H592.41V2125.04H594.11V2125.39H595.82V2133.08H597.53V2139.23H599.24V2143.72H600.94V2146.8ZM638.88 2146.8V2142.81H640.65V2135.99H642.41V2135.34H644.17V2133.58H645.93V2134.23H647.69V2137.01H649.45V2142.49H651.21V2146.8ZM660.22 2146.8V2128.8H661.9V2115.7H663.57V2113.05H665.25V2117H666.92V2128.54H668.59V2131.69H670.27V2135.44H671.94V2135.96H673.62V2134.91H675.29V2135.39H676.96V2124.16H678.64V2110.91H680.31V2102.95H681.98V2115.62H683.66V2128.98H685.33V2137.3H687.01V2143.87H688.68V2146.8ZM702.91 2146.8V2120.93H704.69V2073.5H706.46V2055.2H708.24V2056.2H710.02V2074.86H711.8V2108.68H713.58V2133.93H715.36V2143.69H717.13V2146.8ZM718.56 2146.8V2136.32H720.3V2122.56H722.04V2123.27H723.77V2128.38H725.51V2136.04H727.25V2143.67H728.99V2146.8ZM734.68 2146.8V2145.61H736.22V2143.23H737.76V2143.74H739.31V2145.78H740.85V2146.8ZM748.91 2146.8V2130.61H750.81V2112.6H752.7V2120.98H754.6V2137.91H756.5V2146.8ZM763.14 2146.8V2138.36H764.82V2123.7H766.51V2109.08H768.2V2098.81H769.88V2094.56H771.57V2089.61H773.25V2074.8H774.94V2080.02H776.63V2090.62H778.31V2105.75H780V2106.86H781.69V2109.61H783.37V2090.32H785.06V2090.48H786.74V2098.48H788.43V2102.97H790.12V2120.96H791.8V2139.02H793.49V2146.8ZM796.33 2146.8V2136.82H797.91V2117.11H799.5V2109.17H801.08V2106.26H802.66V2119.85H804.24V2136.7H805.82V2146.8ZM808.66 2146.8V2117.69H810.38V2074.85H812.09V2063.78H813.81V2082.92H815.52V2106.3H817.24V2088.2H818.95V2061.68H820.67V2051.59H822.38V2062.04H824.1V2067.68H825.81V2078.87H827.53V2101.73H829.24V2131.18H830.95V2146.8ZM837.12 2146.8V2138.48H838.78V2143.55H840.44V2146.8ZM847.55 2146.8V2141.96H849.29V2134.17H851.03V2130.42H852.77V2129.56H854.51V2131.7H856.25V2134.22H857.99V2137.77H859.73V2140.54H861.46V2144.65H863.2V2146.8ZM865.46 2146.8V2140.06H867.16V2139.18H868.87V2133.78H870.57V2118.8H872.28V2111.49H873.98V2100.83H875.68V2099.49H877.39V2097.48H879.09V2094.22H880.8V2093.05H882.5V2111.23H884.21V2120.78H885.91V2121.38H887.62V2131.55H889.32V2121.31H891.03V2139.06H892.73V2138.07H894.44V2127.67H896.14V2101.45H897.85V2070.02H899.55V2052.88H901.26V2047.73H902.96V2051.99H904.67V2049.99H906.37V2061.87H908.08V2078.58H909.78V2091.5H911.48V2082.78H913.19V2083.11H914.89V2092.77H916.6V2097.53H918.3V2100.35H920.01V2111.01H921.71V2113.1H923.42V2106.64H925.12V2084.64H926.83V2070.28H928.53V2047.38H930.24V2038.4H931.94V2034.1H933.65V2034.1H935.35V2034.1H937.06V2034.1H938.76V2034.6H940.47V2034.1H942.17V2054.54H943.88V2044.93H945.58V2039.4H947.28V2034.1H948.99V2034.65H950.69V2049.28H952.4V2047.69H954.1V2035.97H955.81V2034.1H957.51V2034.1H959.22V2043.67H960.92V2060.51H962.63V2077.59H964.33V2076.86H966.04V2086.68H967.74V2108.62H969.45V2124.21H971.15V2114.04H972.86V2100.8H974.56V2098.97H976.27V2102.41H977.97V2119.78H979.68V2140.65H981.38V2146.8ZM985.89 2146.8V2097.11H987.59V2073.85H989.3V2057.91H991V2057.55H992.71V2060.85H994.41V2067.52H996.12V2070.16H997.82V2078.07H999.53V2081.48H1001.23V2079.86H1002.94V2073.5H1004.64V2078.21H1006.35V2084.55H1008.05V2096.37H1009.75V2109.04H1011.46V2107.6H1013.16V2087.7H1014.87V2067.24H1016.57V2064.19H1018.28V2078.58H1019.98V2099.38H1021.69V2110.28H1023.39V2110.81H1025.1V2104.12H1026.8V2097.26H1028.51V2105.95H1030.21V2121.55H1031.92V2105.6H1033.62V2086.81H1035.33V2063.86H1037.03V2050.17H1038.74V2050.86H1040.44V2052.83H1042.14V2069.83H1043.85V2105.36H1045.55V2105.14H1047.26V2103.17H1048.96V2091.57H1050.67V2086.31H1052.37V2103.09H1054.08V2112.36H1055.78V2120.67H1057.49V2119.58H1059.19V2090.49H1060.9V2065.75H1062.6V2051.38H1064.31V2060.8H1066.01V2073.42H1067.72V2091.17H1069.42V2111.25H1071.13V2141.31H1072.83V2146.8ZM1074.76 2146.8V2113.5H1076.48V2075.03H1078.2V2063.27H1079.91V2067.91H1081.63V2103.53H1083.35V2133.68H1085.07V2146.8ZM1094.08 2146.8V2130.76H1095.63V2105.77H1097.17V2101.97H1098.72V2112.64H1100.27V2134.72H1101.81V2146.8ZM1106.64 2146.8V2127.49H1108.51V2109.17H1110.38V2103.65H1112.24V2120.67H1114.11V2139.59H1115.98V2146.8ZM1118.88 2146.8V2136.01H1120.62V2126.52H1122.36V2127.45H1124.09V2132.17H1125.83V2141.2H1127.57V2146.8ZM1150.43 2146.8V2134.91H1152.04V2126.77H1153.65V2128.08H1155.26V2132.56H1156.87V2134.41H1158.48V2146.8ZM1160.74 2146.8V2129.86H1162.51V2115.63H1164.28V2122.43H1166.05V2140.42H1167.82V2146.8ZM1172.98 2146.8V2136.95H1174.71V2115.19H1176.44V2086.71H1178.18V2069.3H1179.91V2061.83H1181.64V2065.62H1183.38V2073.8H1185.11V2067.84H1186.85V2062.52H1188.58V2060.59H1190.31V2071.48H1192.05V2095.56H1193.78V2139.36H1195.52V2146.8ZM1202.6 2146.8V2137.33H1204.28V2122.52H1205.97V2112.46H1207.65V2104.2H1209.34V2096H1211.02V2084.87H1212.71V2069.68H1214.39V2059.16H1216.08V2051.04H1217.76V2068.05H1219.44V2093H1221.13V2110.18H1222.81V2132.55H1224.5V2146.8ZM1228.36 2146.8V2129.96H1230.07V2102.94H1231.77V2085.56H1233.48V2083.87H1235.19V2084.35H1236.89V2081.74H1238.6V2090.98H1240.31V2104.45H1242.01V2108.08H1243.72V2134.63H1245.43V2146.8ZM1250.9 2146.8V2140.82H1252.56V2128.84H1254.22V2117.29H1255.88V2113.16H1257.54V2083.51H1259.2V2060.57H1260.86V2053.51H1262.52V2039.48H1264.18V2040.14H1265.84V2061.55H1267.5V2082.37H1269.16V2107.17H1270.82V2122.27H1272.48V2146.8ZM1278.27 2146.8V2137.94H1279.88V2138.12H1281.49V2146.8ZM1285.36 2146.8V2134.16H1287.07V2121.92H1288.79V2120.76H1290.51V2114.49H1292.23V2108.38H1293.94V2102.66H1295.66V2102.34H1297.38V2120.5H1299.1V2137H1300.81V2146.8ZM1307.25 2146.8V2130.46H1308.94V2099.81H1310.62V2081.26H1312.31V2086.33H1313.99V2092.82H1315.68V2104.13H1317.36V2108.43H1319.04V2093.85H1320.73V2072.03H1322.41V2086.06H1324.1V2093.56H1325.78V2104.61H1327.47V2129.67H1329.15V2146.8ZM1331.4 2146.8V2112.69H1333.11V2084.49H1334.83V2082.96H1336.54V2081.2H1338.25V2081.73H1339.96V2074.65H1341.67V2056.57H1343.38V2045.01H1345.09V2045.35H1346.8V2038.71H1348.51V2040.58H1350.22V2038.4H1351.93V2034.1H1353.64V2076.75H1355.35V2124.91H1357.06V2141.14H1358.77V2146.8ZM1369.32 2146.8V2131.37H1370.98V2112.16H1372.64V2112.76H1374.3V2121.61H1375.96V2124.06H1377.63V2132.49H1379.29V2121.55H1380.95V2124.03H1382.61V2115.89H1384.27V2116.53H1385.93V2122.73H1387.59V2121.43H1389.25V2123.1H1390.91V2112.58H1392.57V2112.29H1394.23V2112.06H1395.89V2111.11H1397.56V2111.63H1399.22V2124.94H1400.88V2146.8ZM1405.39 2146.8V2132.19H1407.48V2136.32H1409.57V2146.8ZM1433.08 2146.8V2121.02H1434.62V2080.83H1436.17V2079.47H1437.72V2100.14H1439.26V2105.71H1440.81V2146.8ZM1459.48 2146.8V2134.62H1461.17V2113.59H1462.86V2109.53H1464.55V2105.06H1466.25V2100.58H1467.94V2108.73H1469.63V2117.74H1471.32V2129.48H1473.01V2146.8ZM1502.95 2146.8V2127.03H1505.05V2124.3H1507.14V2146.8ZM1531.94 2146.8V2136.68H1533.74V2110.54H1535.54V2088.82H1537.35V2092.63H1539.15V2108.07H1540.95V2146.8ZM1556.09 2146.8V2140.17H1557.7V2130.15H1559.31V2122.31H1560.92V2110.85H1562.53V2101.31H1564.14V2101.58H1565.75V2107.93H1567.36V2110.8H1568.97V2128.14H1570.58V2146.8ZM1584.42 2146.8V2131.25H1586.35V2131.08H1588.29V2146.8ZM1595.37 2146.8V2139.03H1597.02V2123.42H1598.66V2106.94H1600.31V2108.39H1601.95V2108.09H1603.6V2107.79H1605.25V2105.18H1606.89V2107.84H1608.54V2132.05H1610.18V2146.8ZM1612.44 2146.8V2118.52H1614.23V2101.81H1616.02V2083.86H1617.8V2077.8H1619.59V2101.01H1621.38V2117.31H1623.17V2119.34H1624.96V2115.41H1626.75V2128.41H1628.54V2146.8ZM1645.6 2146.8V2139.13H1647.31V2131.02H1649.01V2127.45H1650.71V2124.62H1652.41V2132.02H1654.11V2133.55H1655.82V2141.79H1657.52V2146.8ZM1688.75 2146.8V2123.64H1690.46V2109.85H1692.17V2100.12H1693.87V2091.6H1695.58V2089.72H1697.29V2083.83H1698.99V2085.78H1700.7V2091.08H1702.41V2129.64H1704.11V2132.1H1705.82V2133.8H1707.53V2123.07H1709.23V2094.04H1710.94V2084.85H1712.65V2072.84H1714.35V2076.47H1716.06V2088.22H1717.77V2099.09H1719.47V2111.42H1721.18V2115.95H1722.89V2146.8ZM1725.14 2146.8V2132.11H1727.07V2129.46H1729V2132.63H1730.94V2146.8ZM1736.41 2146.8V2132.34H1738.02V2127.64H1739.63V2127.92H1741.24V2135.16H1742.85V2146.8ZM1753.16 2146.8V2132.03H1754.9V2129.82H1756.65V2130.2H1758.4V2132.61H1760.15V2135.83H1761.9V2140.97H1763.64V2145.9H1765.39V2146.8ZM268.2 2146.8H283.2V2152.6H268.2ZM300.27 2146.8H315.45V2152.6H300.27ZM320.19 2146.8H322.09V2152.6H320.19ZM335.36 2146.8H517.95V2152.6H335.36ZM522.69 2146.8H533.6V2152.6H522.69ZM540.24 2146.8H560.63V2152.6H540.24ZM564.43 2146.8H566.8V2152.6H564.43ZM600.94 2146.8H638.88V2152.6H600.94ZM651.21 2146.8H660.22V2152.6H651.21ZM688.68 2146.8H702.91V2152.6H688.68ZM717.13 2146.8H718.56V2152.6H717.13ZM728.99 2146.8H734.68V2152.6H728.99ZM740.85 2146.8H748.91V2152.6H740.85ZM756.5 2146.8H763.14V2152.6H756.5ZM793.49 2146.8H796.33V2152.6H793.49ZM805.82 2146.8H808.66V2152.6H805.82ZM830.95 2146.8H837.12V2152.6H830.95ZM840.44 2146.8H847.55V2152.6H840.44ZM863.2 2146.8H865.46V2152.6H863.2ZM981.38 2146.8H985.89V2152.6H981.38ZM1072.83 2146.8H1074.76V2152.6H1072.83ZM1085.07 2146.8H1094.08V2152.6H1085.07ZM1101.81 2146.8H1106.64V2152.6H1101.81ZM1115.98 2146.8H1118.88V2152.6H1115.98ZM1127.57 2146.8H1150.43V2152.6H1127.57ZM1158.48 2146.8H1160.74V2152.6H1158.48ZM1167.82 2146.8H1172.98V2152.6H1167.82ZM1195.52 2146.8H1202.6V2152.6H1195.52ZM1224.5 2146.8H1228.36V2152.6H1224.5ZM1245.43 2146.8H1250.9V2152.6H1245.43ZM1272.48 2146.8H1278.27V2152.6H1272.48ZM1281.49 2146.8H1285.36V2152.6H1281.49ZM1300.81 2146.8H1307.25V2152.6H1300.81ZM1329.15 2146.8H1331.4V2152.6H1329.15ZM1358.77 2146.8H1369.32V2152.6H1358.77ZM1400.88 2146.8H1405.39V2152.6H1400.88ZM1409.57 2146.8H1433.08V2152.6H1409.57ZM1440.81 2146.8H1459.48V2152.6H1440.81ZM1473.01 2146.8H1502.95V2152.6H1473.01ZM1507.14 2146.8H1531.94V2152.6H1507.14ZM1540.95 2146.8H1556.09V2152.6H1540.95ZM1570.58 2146.8H1584.42V2152.6H1570.58ZM1588.29 2146.8H1595.37V2152.6H1588.29ZM1610.18 2146.8H1612.44V2152.6H1610.18ZM1628.54 2146.8H1645.6V2152.6H1628.54ZM1657.52 2146.8H1688.75V2152.6H1657.52ZM1722.89 2146.8H1725.14V2152.6H1722.89ZM1730.94 2146.8H1736.41V2152.6H1730.94ZM1742.85 2146.8H1753.16V2152.6H1742.85ZM1765.39 2146.8H1840.6V2152.6H1765.39Z" fill="#f8ab7d" clip-path="url(#yc)"/>
<rect x="272.2" y="2277.6" width="269.5" height="6.4" fill="#f59c99"/>
<rect x="771.7" y="2277.6" width="91.9" height="6.4" fill="#f59c99"/>
<rect x="1147.9" y="2277.6" width="49.2" height="6.4" fill="#f59c99"/>
<rect x="1385.4" y="2277.6" width="46.7" height="6.4" fill="#f59c99"/>
<rect x="1652.7" y="2277.6" width="25.1" height="6.4" fill="#f59c99"/>
<rect x="1689.7" y="2277.6" width="31.3" height="6.4" fill="#f59c99"/>
<rect x="1777.6" y="2277.6" width="63" height="6.4" fill="#f59c99"/>
<rect x="541.7" y="2277.6" width="230" height="1.1" fill="#f8ab7d"/>
<rect x="863.6" y="2277.6" width="284.3" height="1.1" fill="#f8ab7d"/>
<rect x="1197.1" y="2277.6" width="188.3" height="1.1" fill="#f8ab7d"/>
<rect x="1432.1" y="2277.6" width="220.6" height="1.1" fill="#f8ab7d"/>
<rect x="1677.8" y="2277.6" width="11.9" height="1.1" fill="#f8ab7d"/>
<rect x="1721" y="2277.6" width="56.6" height="1.1" fill="#f8ab7d"/>
<path d="M667.5,2278V2274.8h2.6V2278ZM1319.5,2278V2269.5h2v5h2V2278h2.5v6h-2V2278Z" fill="#f8ab7d"/>
<path d="M840 2416V2297.6h1V2297.6h1V2297.6h1V2297.6h1V2297.6h1V2297.6h1V2314.27h1V2297.6h1V2329.07h1V2329.07h1V2329.07h1V2322.75h1V2327.41h1V2327.41h1V2332.01h1V2297.6h1V2327.08h1V2297.6h1V2297.6h1V2297.6h1V2297.6h1V2297.6h1V2297.6h1V2397.61h1V2297.6h1V2297.6h1V2297.6h1V2334.35h1V2334.35h1V2297.6h1V2297.6h1V2337.87h1V2297.6h1V2297.6h1V2297.6h1V2297.6h1V2411.22h1V2297.6h1V2297.6h1V2297.6h1V2353.54h1V2353.54h1V2297.6h1V2313.03h1V2313.03h1V2311.21h1V2314.05h1V2314.05h1V2319.71h1V2319.71h1V2319.71h1V2318.18h1V2318.18h1V2297.6h1V2297.6h1V2297.6h1V2414.66h1V2414.66h1V2297.6h1V2297.6h1V2415.78h1V2297.6h1V2297.6h1V2330.12h1V2330.12h1V2297.6h1V2297.6h1V2297.6h1V2297.6h1V2329.93h1V2297.6h1V2395.87h1V2335.82h1V2335.82h1V2335.82h1V2352.85h1V2352.85h1V2352.85h1V2329.41h1V2329.41h1V2329.41h1V2341.29h1V2341.29h1V2341.29h1V2351.99h1V2351.99h1V2297.6h1V2297.6h1V2347.62h1V2347.62h1V2354.34h1V2354.34h1V2329.86h1V2297.6h1V2341.14h1V2341.14h1V2297.6h1V2297.6h1V2359.3h1V2359.3h1V2297.6h1V2386.47h1V2332.96h1V2332.96h1V2297.6h1V2297.6h1V2365.71h1V2365.71h1V2361.03h1V2361.03h1V2361.03h1V2350.32h1V2334.81h1V2297.6h1V2297.6h1V2297.6h1V2297.6h1V2297.6h1V2351.82h1V2351.82h1V2297.6h1V2297.6h1V2297.6h1V2297.6h1V2297.6h1V2297.6h1V2297.6h1V2297.6h1V2297.6h1V2297.6h1V2297.6h1V2297.6h1V2297.6h1V2297.6h1V2297.6h1V2297.6h1V2297.6h1V2362.44h1V2297.6h1V2297.6h1V2297.6h1V2297.6h1V2297.6h1V2297.6h1V2297.6h1V2334.14h1V2297.6h1V2297.6h1V2297.6h1V2328.39h1V2328.39h1V2297.6h1V2297.6h1V2312.16h1V2312.16h1V2297.6h1V2297.6h1V2297.6h1V2297.6h1V2297.6h1V2297.6h1V2297.6h1V2297.6h1V2297.6h1V2297.6h1V2297.6h1V2297.6h1V2297.6h1V2297.6h1V2297.6h1V2374.54h1V2337.43h1V2337.43h1V2341.92h1V2341.92h1V2355.48h1V2355.48h1V2369.62h1V2369.62h1V2369.62h1V2297.6h1V2297.6h1V2332.81h1V2297.6h1V2297.6h1V2297.6h1V2297.6h1V2297.6h1V2297.6h1V2297.6h1V2297.6h1V2307.38h1V2307.38h1V2297.6h1V2297.6h1V2297.6h1V2340.84h1V2340.84h1V2340.84h1V2334.5h1V2353.79h1V2353.79h1V2297.6h1V2297.6h1V2332.57h1V2332.57h1V2297.6h1V2297.6h1V2297.6h1V2297.6h1V2297.6h1V2297.6h1V2297.6h1V2297.6h1V2332.54h1V2332.54h1V2325.89h1V2333.73h1V2333.73h1V2333.73h1V2334.52h1V2334.52h1V2331.1h1V2316.59h1V2316.59h1V2297.6h1V2297.6h1V2349.3h1V2349.3h1V2327.46h1V2339.1h1V2339.1h1V2325.59h1V2325.59h1V2325.82h1V2351.7h1V2312.12h1V2297.6h1V2297.6h1V2297.6h1V2297.6h1V2297.6h1V2297.6h1V2344.77h1V2344.77h1V2344.77h1V2338.08h1V2338.08h1V2338.08h1V2342.98h1V2342.98h1V2297.6h1V2297.6h1V2297.6h1V2297.6h1V2307.51h1V2297.6h1V2297.6h1V2328h1V2362.64h1V2362.64h1V2351.71h1V2343.2h1V2297.6h1V2297.6h1V2297.6h1V2297.6h1V2297.6h1V2297.6h1V2297.6h1V2297.6h1V2297.6h1V2297.6h1V2355.6h1V2355.6h1V2297.6h1V2352.18h1V2335.78h1V2335.78h1V2301.15h1V2307.54h1V2367.05h1V2371.49h1V2376.21h1V2344.23h1V2353.92h1V2363.08h1V2371.4h1V2413.06h1V2413.52h1V2388.78h1V2391.43h1V2392.32h1V2391.43h1V2388.78h1V2384.46h1V2378.6h1V2371.4h1V2370.51h1V2362.64h1V2344.23h1V2349.26h1V2341.34h1V2315.58h1V2307.54h1V2301.15h1V2316.11h1V2328.86h1V2328.86h1V2328.45h1V2297.6h1V2333.19h1V2333.19h1V2333.19h1V2297.6h1V2352.95h1V2352.95h1V2345.29h1V2297.6h1V2361.2h1V2361.2h1V2361.2h1V2334.1h1V2334.1h1V2333.1h1V2330.74h1V2330.74h1V2352.77h1V2334.82h1V2297.6h1V2297.6h1V2297.6h1V2297.6h1V2407.7h1V2407.7h1V2316.34h1V2297.6h1V2297.6h1V2302.63h1V2297.6h1V2297.6h1V2297.6h1V2297.6h1V2297.6h1V2297.6h1V2297.6h1V2297.6h1V2297.6h1V2297.6h1V2297.6h1V2297.6h1V2297.6h1V2297.6h1V2297.6h1V2297.6h1V2297.6h1V2297.6h1V2297.6h1V2297.6h1V2297.6h1V2297.6h1V2297.6h1V2333.78h1V2333.78h1V2297.6h1V2297.6h1V2297.6h1V2369.34h1V2369.34h1V2356.5h1V2356.5h1V2355.68h1V2371.08h1V2371.08h1V2297.6h1V2297.6h1V2402.08h1V2402.08h1V2297.6h1V2297.6h1V2348.13h1V2348.13h1V2377.41h1V2297.6h1V2297.6h1V2297.6h1V2297.6h1V2297.6h1V2360.73h1V2372.46h1V2339.05h1V2339.05h1V2357.61h1V2357.61h1V2349.97h1V2349.97h1V2345.27h1V2345.27h1V2345.27h1V2360.15h1V2297.6h1V2297.6h1V2297.6h1V2297.6h1V2365h1V2309.72h1V2309.72h1V2297.6h1V2297.6h1V2324.33h1V2324.33h1V2297.6h1V2297.6h1V2297.6h1V2297.6h1V2297.6h1V2297.6h1V2297.6h1V2297.6h1V2297.6h1V2297.6h1V2297.6h1V2297.6h1V2323.07h1V2332.54h1V2332.54h1V2332.54h1V2335.34h1V2342.23h1V2342.23h1V2337.63h1V2337.63h1V2343.82h1V2336.78h1V2340.49h1V2340.49h1V2340.03h1V2297.6h1V2297.6h1V2297.6h1V2297.6h1V2297.6h1V2297.6h1V2297.6h1V2297.6h1V2297.6h1V2297.6h1V2297.6h1V2364.15h1V2343.73h1V2343.73h1V2359.11h1V2320.93h1V2297.6h1V2297.6h1V2297.6h1V2297.6h1V2358.45h1V2358.45h1V2363.78h1V2347.45h1V2347.45h1V2357.28h1V2297.6h1V2297.6h1V2297.6h1V2313.33h1V2313.33h1V2297.6h1V2297.6h1V2297.6h1V2297.6h1V2297.6h1V2297.6h1V2297.6h1V2297.6h1V2411.24h1V2297.6h1V2297.6h1V2297.6h1V2297.6h1V2297.6h1V2297.6h1V2297.6h1V2297.6h1V2297.6h1V2297.6h1V2297.6h1V2297.6h1V2297.6h1V2297.6h1V2297.6h1V2297.6h1V2297.6h1V2297.6h1V2297.6h1V2297.6h1V2297.6h1V2297.6h1V2297.6h1V2322.28h1V2322.28h1V2297.6h1V2297.6h1V2297.6h1V2297.6h1V2297.6h1V2297.6h1V2305.69h1V2343.7h1V2343.7h1V2359.55h1V2370.39h1V2347.55h1V2297.6h1V2297.6h1V2297.6h1V2338.4h1V2297.6h1V2297.6h1V2338.03h1V2297.6h1V2297.6h1V2297.6h1V2297.6h1V2297.6h1V2297.6h1V2297.6h1V2297.6h1V2297.6h1V2297.6h1V2317.58h1V2338.3h1V2297.6h1V2297.6h1V2297.6h1V2297.6h1V2297.6h1V2297.6h1V2297.6h1V2297.6h1V2297.6h1V2297.6h1V2297.6h1V2297.6h1V2297.6h1V2321.11h1V2321.11h1V2297.6h1V2310.39h1V2297.6h1V2297.6h1V2351.56h1V2351.56h1V2297.6h1V2319.62h1V2319.62h1V2297.6h1V2405.37h1V2405.37h1V2297.6h1V2297.6h1V2297.6h1V2297.6h1V2297.6h1V2297.6h1V2297.6h1V2297.6h1V2297.6h1V2297.6h1V2297.6h1V2297.6h1V2297.6h1V2297.6h1V2297.6h1V2297.6h1V2297.6h1V2297.6h1V2297.6h1V2297.6h1V2297.6h1V2344.92h1V2344.72h1V2344.72h1V2322.76h1V2322.76h1V2347.09h1V2328.38h1V2328.38h1V2297.6h1V2297.6h1V2297.6h1V2297.6h1V2317.68h1V2317.68h1V2297.6h1V2297.6h1V2297.6h1V2317.6h1V2317.6h1V2317.6h1V2319.66h1V2330.98h1V2330.98h1V2319.67h1V2319.67h1V2339.35h1V2339.35h1V2339.35h1V2297.6h1V2297.6h1V2297.6h1V2297.6h1V2327.66h1V2327.66h1V2327.66h1V2325.57h1V2325.57h1V2327.03h1V2327.03h1V2327.03h1V2297.6h1V2297.6h1V2297.6h1V2318.54h1V2297.6h1V2297.6h1V2297.6h1V2297.6h1V2297.6h1V2400.55h1V2297.6h1V2297.6h1V2297.6h1V2405.31h1V2405.31h1V2297.6h1V2297.6h1V2297.6h1V2297.6h1V2297.6h1V2297.6h1V2297.6h1V2297.6h1V2297.6h1V2297.6h1V2297.6h1V2297.6h1V2297.6h1V2297.6h1V2297.6h1V2297.6h1V2297.6h1V2297.6h1V2353.16h1V2328.18h1V2330.17h1V2330.17h1V2297.6h1V2355.5h1V2342.7h1V2297.6h1V2297.6h1V2297.6h1V2297.6h1V2297.6h1V2297.6h1V2297.6h1V2400.01h1V2400.01h1V2297.6h1V2297.6h1V2297.6h1V2297.6h1V2380.95h1V2297.6h1V2335.24h1V2335.24h1V2321.89h1V2321.89h1V2321.89h1V2328.77h1V2328.77h1V2328.77h1V2327.96h1V2327.96h1V2339.02h1V2297.6h1V2297.6h1V2297.6h1V2297.6h1V2297.6h1V2297.6h1V2297.6h1V2341.08h1V2341.08h1V2297.6h1V2297.6h1V2336.09h1V2331.36h1V2297.6h1V2297.6h1V2297.6h1V2336.5h1V2336.5h1V2320.67h1V2320.67h1V2340.34h1V2297.6h1V2297.6h1V2297.6h1V2303.78h1V2353.72h1V2353.72h1V2297.6h1V2297.6h1V2318.39h1V2318.39h1V2297.6h1V2297.6h1V2297.6h1V2297.6h1V2302.96h1V2297.6h1V2320.6h1V2320.6h1V2320.6h1V2297.6h1V2297.6h1V2332.74h1V2328.55h1V2328.55h1V2335.18h1V2335.18h1V2324.24h1V2297.6h1V2297.6h1V2297.6h1V2297.6h1V2297.6h1V2297.6h1V2358.46h1V2358.46h1V2358.46h1V2349.14h1V2349.14h1V2362.91h1V2297.6h1V2297.6h1V2297.6h1V2297.6h1V2297.6h1V2297.6h1V2297.6h1V2297.6h1V2297.6h1V2297.6h1V2297.6h1V2297.6h1V2332.99h1V2332.99h1V2332.99h1V2350.14h1V2343.74h1V2343.74h1V2343.74h1V2332.5h1V2297.6h1V2297.6h1V2297.6h1V2323.22h1V2416h1V2416h1V2416h1V2358.42h1V2360.18h1V2360.18h1V2344.96h1V2366.27h1V2370.1h1V2370.1h1V2394.69h1V2394.69h1V2394.69h1V2416h1V2416h1V2416h1V2416h1V2416h1V2416h1V2416h1V2416h1V2416h1V2416h1V2416h1V2321.19h1V2321.19h1V2297.6h1V2297.6h1V2297.6h1V2297.6h1V2333.96h1V2297.6h1V2297.6h1V2297.6h1V2297.6h1V2297.6h1V2297.6h1V2297.6h1V2297.6h1V2297.6h1V2304.62h1V2304.62h1V2297.6h1V2297.6h1V2297.6h1V2297.6h1V2297.6h1V2297.6h1V2297.6h1V2297.6h1V2320.95h1V2320.95h1V2332.05h1V2318.43h1V2297.6h1V2297.6h1V2297.6h1V2297.6h1V2322.65h1V2322.65h1V2322.65h1V2297.6h1V2297.6h1V2297.6h1V2297.6h1V2297.6h1V2297.6h1V2297.6h1V2321.05h1V2321.05h1V2359.26h1V2359.26h1V2359.26h1V2297.6h1V2365.93h1V2365.93h1V2334.57h1V2334.57h1V2297.6h1V2406.79h1V2297.6h1V2297.6h1V2297.6h1V2297.6h1V2297.6h1V2297.6h1V2323h1V2323h1V2322.51h1V2322.51h1V2322.51h1V2337.54h1V2337.54h1V2317.62h1V2317.62h1V2317.62h1V2318.03h1V2297.6h1V2297.6h1V2297.6h1V2297.6h1V2297.6h1V2297.6h1V2297.6h1V2297.6h1V2297.6h1V2372.22h1V2297.6h1V2297.6h1V2297.6h1V2297.6h1V2323.03h1V2323.03h1V2323.03h1V2297.6h1V2297.6h1V2297.6h1V2297.6h1V2297.6h1V2326.16h1V2326.16h1V2332.61h1V2332.61h1V2332.61h1V2325.49h1V2336.7h1V2336.7h1V2336.7h1V2331.91h1V2318.31h1V2318.31h1V2318.31h1V2297.6h1V2297.6h1V2338.26h1V2338.26h1V2297.6h1V2344.1h1V2344.1h1V2338.58h1V2338.58h1V2338.58h1V2328.28h1V2330.36h1V2332.43h1V2333.2h1V2311.26h1V2313.99h1V2341.63h1V2339.87h1V2322.19h1V2324.92h1V2327.66h1V2330.39h1V2333.12h1V2335.85h1V2338.58h1V2355.48h1V2357.7h1V2346.78h1V2349.51h1V2372.75h1V2374.6h1V2376.46h1V2364.12h1V2363.18h1V2365.91h1V2416ZM1794 2416V2402.98h1V2402.98h1V2402.98h1V2416ZM1820 2416V2402.98h1V2402.98h1V2402.98h1V2416ZM266.67 2416L266.67 2297.9L271.42 2297.9L271.59 2333.91L272.65 2333.91L273.35 2307.57L277.57 2309.32L278.44 2321.62L282.48 2321.62L283.01 2339.18L284.06 2339.18L284.59 2316.35L291.62 2317.23L292.14 2342.7L293.37 2342.7L293.9 2321.62L296.89 2316.35L299.52 2319.86L300.05 2351.48L301.28 2351.48L301.81 2333.91L304.79 2332.16L305.32 2344.45L306.72 2344.45L307.08 2297.9L308.83 2297.9L309.18 2321.62L310.94 2327.77L312.7 2328.64L313.75 2356.75L315.16 2356.75L315.86 2340.06L317.97 2339.18L319.37 2297.9L330.26 2297.9L330.61 2319.86L332.02 2319.86L332.55 2297.9L340.8 2297.9L341.68 2346.21L342.56 2377.83L346.95 2377.83L347.48 2388.37L349.23 2388.37L349.94 2378.71L351.34 2377.83L351.87 2395.39L353.1 2395.39L353.62 2356.75L356.26 2356.75L356.61 2407.69L358.37 2409.44L358.89 2416L358.89 2416ZM562.48 2416L562.48 2297.9L564.59 2297.9L564.59 2416ZM566 2416L566 2297.9L579.52 2297.9L579.52 2416ZM587.78 2416L587.78 2297.9L590.94 2297.9L590.94 2416ZM590.94 2416L590.94 2322.5L592.7 2322.5L592.7 2416ZM592.7 2416L592.7 2333.04L595.86 2333.04L595.86 2416ZM595.86 2416L595.86 2297.9L597.26 2297.9L597.26 2416ZM597.26 2416L597.26 2322.5L599.72 2322.5L599.72 2416ZM599.72 2416L599.72 2333.04L600.78 2333.04L600.78 2416ZM600.78 2416L600.78 2297.9L601.83 2297.9L601.83 2416ZM601.83 2416L601.83 2336.55L603.59 2336.55L603.59 2416ZM603.59 2416L603.59 2340.94L606.4 2340.94L606.4 2416ZM606.4 2416L606.4 2297.9L608.86 2297.9L608.86 2416ZM608.86 2416L608.86 2326.01L609.91 2326.01L609.91 2416ZM609.91 2416L609.91 2297.9L610.96 2297.9L610.96 2416ZM610.96 2416L610.96 2327.77L612.9 2327.77L612.9 2416ZM612.9 2416L612.9 2376.95L615.18 2376.95L615.18 2416ZM615.18 2416L615.18 2352.36L618.17 2352.36L618.17 2416ZM619.4 2416L619.4 2297.9L620.63 2297.9L620.63 2416ZM620.98 2416L620.98 2297.9L621.68 2297.9L621.68 2416ZM633.1 2416L633.1 2297.9L634.85 2297.9L634.85 2416ZM634.85 2416L634.85 2357.63L636.26 2357.63L636.26 2416ZM636.26 2416L636.26 2297.9L637.66 2297.9L637.66 2416ZM637.66 2416L637.66 2357.63L639.77 2357.63L639.77 2416ZM639.77 2416L639.77 2297.9L643.64 2297.9L643.64 2416ZM643.64 2416L643.64 2345.33L645.39 2345.33L645.39 2416ZM645.39 2416L645.39 2297.9L655.4 2297.9L655.4 2416ZM675.25 2416L675.25 2297.9L680.17 2297.9L680.17 2416ZM680.17 2416L680.17 2328.64L684.04 2328.64L684.04 2416ZM684.04 2416L684.04 2297.9L687.9 2297.9L687.9 2416ZM693.17 2416L693.17 2297.9L698.09 2297.9L698.09 2416ZM698.09 2416L698.09 2357.63L701.25 2357.63L701.25 2416ZM701.25 2416L701.25 2297.9L704.24 2297.9L704.24 2416ZM704.24 2416L704.24 2339.18L708.63 2339.18L708.63 2416ZM708.63 2416L708.63 2297.9L711.26 2297.9L711.26 2416ZM711.26 2416L711.26 2339.18L715.65 2339.18L715.65 2416ZM715.65 2416L715.65 2347.09L719.17 2347.09L719.17 2416ZM719.17 2416L719.17 2297.9L720.92 2297.9L720.92 2416ZM720.92 2416L720.92 2354.99L726.19 2354.99L726.19 2416ZM726.19 2416L726.19 2297.9L727.95 2297.9L727.95 2416ZM727.95 2416L727.95 2378.71L730.58 2378.71L730.58 2416ZM730.58 2416L730.58 2297.9L732.34 2297.9L732.34 2416ZM732.34 2416L732.34 2382.22L734.1 2382.22L734.1 2416ZM734.1 2416L734.1 2328.64L737.61 2328.64L737.61 2416ZM737.61 2416L737.61 2307.57L741.12 2307.57L741.12 2416ZM741.12 2416L741.12 2340.06L743.76 2340.06L743.76 2416ZM743.76 2416L743.76 2346.21L747.27 2346.21L747.27 2416ZM747.27 2416L747.27 2378.71L749.03 2378.71L749.03 2416ZM749.03 2416L749.03 2297.9L755.18 2297.9L755.18 2416ZM755.18 2416L755.18 2317.23L758.69 2317.23L758.69 2416ZM758.69 2416L758.69 2310.2L763.08 2310.2L763.08 2416ZM763.08 2416L763.08 2310.2L765.72 2310.2L765.72 2416ZM765.72 2416L765.72 2357.63L770.11 2357.63L770.11 2416ZM770.11 2416L770.11 2297.9L773.62 2297.9L773.62 2416ZM773.62 2416L773.62 2297.9L778.89 2297.9L778.89 2416ZM778.89 2416L778.89 2361.14L782.05 2361.14L782.05 2416ZM782.05 2416L782.05 2297.9L807.87 2297.9L807.87 2416ZM807.87 2416L807.87 2387.49L810.51 2387.49L810.51 2416ZM810.51 2416L810.51 2297.9L813.14 2297.9L813.14 2416ZM813.14 2416L813.14 2322.5L815.78 2322.5L815.78 2416ZM815.78 2416L815.78 2297.9L819.29 2297.9L819.29 2416ZM819.29 2416L819.29 2297.9L821.05 2297.9L821.05 2416ZM822.45 2416L822.45 2297.9L825.44 2297.9L825.44 2416ZM825.44 2416L825.44 2315.47L828.95 2315.47L828.95 2416ZM828.95 2416L828.95 2297.9L833.34 2297.9L833.34 2416ZM835.1 2416L835.1 2340.06L840.37 2340.06L840.37 2416ZM374.18 2416L374.18 2356.75L376.81 2356.75L376.81 2416ZM442.68 2416L442.68 2414.36L446.19 2414.36L446.19 2416ZM456.38 2416L456.38 2402.42L459.37 2402.42L459.37 2416ZM472.54 2416L472.54 2398.91L475.18 2398.91L475.18 2416ZM477.81 2416L477.81 2407.69L479.57 2407.69L479.57 2416ZM483.43 2416L483.43 2356.75L485.72 2356.75L485.72 2416ZM492.74 2416L492.74 2363.77L494.5 2363.77L494.5 2416ZM494.5 2416L494.5 2356.75L496.26 2356.75L496.26 2416ZM496.26 2416L496.26 2297.9L498.01 2297.9L498.01 2416ZM500.65 2416L500.65 2339.18L503.28 2339.18L503.28 2416ZM504.51 2416L504.51 2363.77L505.92 2363.77L505.92 2416ZM506.44 2416L506.44 2333.04L509.43 2333.04L509.43 2416ZM509.43 2416L509.43 2384.85L511.19 2384.85L511.19 2416ZM512.24 2416L512.24 2339.18L514.35 2339.18L514.35 2416ZM514.7 2416L514.7 2303.17L516.81 2303.17L516.81 2416ZM516.81 2416L516.81 2367.29L519.09 2367.29L519.09 2416ZM519.62 2416L519.62 2297.9L523.48 2297.9L523.48 2416ZM527.87 2416L527.87 2346.21L529.63 2346.21L529.63 2416ZM529.63 2416L529.63 2377.83L531.39 2377.83L531.39 2416ZM531.56 2416L531.56 2297.9L534.9 2297.9L534.9 2416Z" fill="#ff9c01"/>
<path d="M840 2416V2297.6h1V2297.6h1V2297.6h1V2297.6h1V2297.6h1V2297.6h1V2314.27h1V2297.6h1V2329.07h1V2329.07h1V2329.07h1V2322.75h1V2327.41h1V2327.41h1V2332.01h1V2297.6h1V2327.08h1V2297.6h1V2297.6h1V2297.6h1V2297.6h1V2297.6h1V2297.6h1V2397.61h1V2297.6h1V2297.6h1V2297.6h1V2334.35h1V2334.35h1V2297.6h1V2297.6h1V2337.87h1V2297.6h1V2297.6h1V2297.6h1V2297.6h1V2411.22h1V2297.6h1V2297.6h1V2297.6h1V2353.54h1V2353.54h1V2297.6h1V2313.03h1V2313.03h1V2311.21h1V2314.05h1V2314.05h1V2319.71h1V2319.71h1V2319.71h1V2318.18h1V2318.18h1V2297.6h1V2297.6h1V2297.6h1V2414.66h1V2414.66h1V2297.6h1V2297.6h1V2415.78h1V2297.6h1V2297.6h1V2330.12h1V2330.12h1V2297.6h1V2297.6h1V2297.6h1V2297.6h1V2329.93h1V2297.6h1V2395.87h1V2335.82h1V2335.82h1V2335.82h1V2352.85h1V2352.85h1V2352.85h1V2329.41h1V2329.41h1V2329.41h1V2341.29h1V2341.29h1V2341.29h1V2351.99h1V2351.99h1V2297.6h1V2297.6h1V2347.62h1V2347.62h1V2354.34h1V2354.34h1V2329.86h1V2297.6h1V2341.14h1V2341.14h1V2297.6h1V2297.6h1V2359.3h1V2359.3h1V2297.6h1V2386.47h1V2332.96h1V2332.96h1V2297.6h1V2297.6h1V2365.71h1V2365.71h1V2361.03h1V2361.03h1V2361.03h1V2350.32h1V2334.81h1V2297.6h1V2297.6h1V2297.6h1V2297.6h1V2297.6h1V2351.82h1V2351.82h1V2297.6h1V2297.6h1V2297.6h1V2297.6h1V2297.6h1V2297.6h1V2297.6h1V2297.6h1V2297.6h1V2297.6h1V2297.6h1V2297.6h1V2297.6h1V2297.6h1V2297.6h1V2297.6h1V2297.6h1V2362.44h1V2297.6h1V2297.6h1V2297.6h1V2297.6h1V2297.6h1V2297.6h1V2297.6h1V2334.14h1V2297.6h1V2297.6h1V2297.6h1V2328.39h1V2328.39h1V2297.6h1V2297.6h1V2312.16h1V2312.16h1V2297.6h1V2297.6h1V2297.6h1V2297.6h1V2297.6h1V2297.6h1V2297.6h1V2297.6h1V2297.6h1V2297.6h1V2297.6h1V2297.6h1V2297.6h1V2297.6h1V2297.6h1V2374.54h1V2337.43h1V2337.43h1V2341.92h1V2341.92h1V2355.48h1V2355.48h1V2369.62h1V2369.62h1V2369.62h1V2297.6h1V2297.6h1V2332.81h1V2297.6h1V2297.6h1V2297.6h1V2297.6h1V2297.6h1V2297.6h1V2297.6h1V2297.6h1V2307.38h1V2307.38h1V2297.6h1V2297.6h1V2297.6h1V2340.84h1V2340.84h1V2340.84h1V2334.5h1V2353.79h1V2353.79h1V2297.6h1V2297.6h1V2332.57h1V2332.57h1V2297.6h1V2297.6h1V2297.6h1V2297.6h1V2297.6h1V2297.6h1V2297.6h1V2297.6h1V2332.54h1V2332.54h1V2325.89h1V2333.73h1V2333.73h1V2333.73h1V2334.52h1V2334.52h1V2331.1h1V2316.59h1V2316.59h1V2297.6h1V2297.6h1V2349.3h1V2349.3h1V2327.46h1V2339.1h1V2339.1h1V2325.59h1V2325.59h1V2325.82h1V2351.7h1V2312.12h1V2297.6h1V2297.6h1V2297.6h1V2297.6h1V2297.6h1V2297.6h1V2344.77h1V2344.77h1V2344.77h1V2338.08h1V2338.08h1V2338.08h1V2342.98h1V2342.98h1V2297.6h1V2297.6h1V2297.6h1V2297.6h1V2307.51h1V2297.6h1V2297.6h1V2328h1V2362.64h1V2362.64h1V2351.71h1V2343.2h1V2297.6h1V2297.6h1V2297.6h1V2297.6h1V2297.6h1V2297.6h1V2297.6h1V2297.6h1V2297.6h1V2297.6h1V2355.6h1V2355.6h1V2297.6h1V2352.18h1V2335.78h1V2335.78h1V2301.15h1V2307.54h1V2367.05h1V2371.49h1V2376.21h1V2344.23h1V2353.92h1V2363.08h1V2371.4h1V2413.06h1V2413.52h1V2388.78h1V2391.43h1V2392.32h1V2391.43h1V2388.78h1V2384.46h1V2378.6h1V2371.4h1V2370.51h1V2362.64h1V2344.23h1V2349.26h1V2341.34h1V2315.58h1V2307.54h1V2301.15h1V2316.11h1V2328.86h1V2328.86h1V2328.45h1V2297.6h1V2333.19h1V2333.19h1V2333.19h1V2297.6h1V2352.95h1V2352.95h1V2345.29h1V2297.6h1V2361.2h1V2361.2h1V2361.2h1V2334.1h1V2334.1h1V2333.1h1V2330.74h1V2330.74h1V2352.77h1V2334.82h1V2297.6h1V2297.6h1V2297.6h1V2297.6h1V2407.7h1V2407.7h1V2316.34h1V2297.6h1V2297.6h1V2302.63h1V2297.6h1V2297.6h1V2297.6h1V2297.6h1V2297.6h1V2297.6h1V2297.6h1V2297.6h1V2297.6h1V2297.6h1V2297.6h1V2297.6h1V2297.6h1V2297.6h1V2297.6h1V2297.6h1V2297.6h1V2297.6h1V2297.6h1V2297.6h1V2297.6h1V2297.6h1V2297.6h1V2333.78h1V2333.78h1V2297.6h1V2297.6h1V2297.6h1V2369.34h1V2369.34h1V2356.5h1V2356.5h1V2355.68h1V2371.08h1V2371.08h1V2297.6h1V2297.6h1V2402.08h1V2402.08h1V2297.6h1V2297.6h1V2348.13h1V2348.13h1V2377.41h1V2297.6h1V2297.6h1V2297.6h1V2297.6h1V2297.6h1V2360.73h1V2372.46h1V2339.05h1V2339.05h1V2357.61h1V2357.61h1V2349.97h1V2349.97h1V2345.27h1V2345.27h1V2345.27h1V2360.15h1V2297.6h1V2297.6h1V2297.6h1V2297.6h1V2365h1V2309.72h1V2309.72h1V2297.6h1V2297.6h1V2324.33h1V2324.33h1V2297.6h1V2297.6h1V2297.6h1V2297.6h1V2297.6h1V2297.6h1V2297.6h1V2297.6h1V2297.6h1V2297.6h1V2297.6h1V2297.6h1V2323.07h1V2332.54h1V2332.54h1V2332.54h1V2335.34h1V2342.23h1V2342.23h1V2337.63h1V2337.63h1V2343.82h1V2336.78h1V2340.49h1V2340.49h1V2340.03h1V2297.6h1V2297.6h1V2297.6h1V2297.6h1V2297.6h1V2297.6h1V2297.6h1V2297.6h1V2297.6h1V2297.6h1V2297.6h1V2364.15h1V2343.73h1V2343.73h1V2359.11h1V2320.93h1V2297.6h1V2297.6h1V2297.6h1V2297.6h1V2358.45h1V2358.45h1V2363.78h1V2347.45h1V2347.45h1V2357.28h1V2297.6h1V2297.6h1V2297.6h1V2313.33h1V2313.33h1V2297.6h1V2297.6h1V2297.6h1V2297.6h1V2297.6h1V2297.6h1V2297.6h1V2297.6h1V2411.24h1V2297.6h1V2297.6h1V2297.6h1V2297.6h1V2297.6h1V2297.6h1V2297.6h1V2297.6h1V2297.6h1V2297.6h1V2297.6h1V2297.6h1V2297.6h1V2297.6h1V2297.6h1V2297.6h1V2297.6h1V2297.6h1V2297.6h1V2297.6h1V2297.6h1V2297.6h1V2297.6h1V2322.28h1V2322.28h1V2297.6h1V2297.6h1V2297.6h1V2297.6h1V2297.6h1V2297.6h1V2305.69h1V2343.7h1V2343.7h1V2359.55h1V2370.39h1V2347.55h1V2297.6h1V2297.6h1V2297.6h1V2338.4h1V2297.6h1V2297.6h1V2338.03h1V2297.6h1V2297.6h1V2297.6h1V2297.6h1V2297.6h1V2297.6h1V2297.6h1V2297.6h1V2297.6h1V2297.6h1V2317.58h1V2338.3h1V2297.6h1V2297.6h1V2297.6h1V2297.6h1V2297.6h1V2297.6h1V2297.6h1V2297.6h1V2297.6h1V2297.6h1V2297.6h1V2297.6h1V2297.6h1V2321.11h1V2321.11h1V2297.6h1V2310.39h1V2297.6h1V2297.6h1V2351.56h1V2351.56h1V2297.6h1V2319.62h1V2319.62h1V2297.6h1V2405.37h1V2405.37h1V2297.6h1V2297.6h1V2297.6h1V2297.6h1V2297.6h1V2297.6h1V2297.6h1V2297.6h1V2297.6h1V2297.6h1V2297.6h1V2297.6h1V2297.6h1V2297.6h1V2297.6h1V2297.6h1V2297.6h1V2297.6h1V2297.6h1V2297.6h1V2297.6h1V2344.92h1V2344.72h1V2344.72h1V2322.76h1V2322.76h1V2347.09h1V2328.38h1V2328.38h1V2297.6h1V2297.6h1V2297.6h1V2297.6h1V2317.68h1V2317.68h1V2297.6h1V2297.6h1V2297.6h1V2317.6h1V2317.6h1V2317.6h1V2319.66h1V2330.98h1V2330.98h1V2319.67h1V2319.67h1V2339.35h1V2339.35h1V2339.35h1V2297.6h1V2297.6h1V2297.6h1V2297.6h1V2327.66h1V2327.66h1V2327.66h1V2325.57h1V2325.57h1V2327.03h1V2327.03h1V2327.03h1V2297.6h1V2297.6h1V2297.6h1V2318.54h1V2297.6h1V2297.6h1V2297.6h1V2297.6h1V2297.6h1V2400.55h1V2297.6h1V2297.6h1V2297.6h1V2405.31h1V2405.31h1V2297.6h1V2297.6h1V2297.6h1V2297.6h1V2297.6h1V2297.6h1V2297.6h1V2297.6h1V2297.6h1V2297.6h1V2297.6h1V2297.6h1V2297.6h1V2297.6h1V2297.6h1V2297.6h1V2297.6h1V2297.6h1V2353.16h1V2328.18h1V2330.17h1V2330.17h1V2297.6h1V2355.5h1V2342.7h1V2297.6h1V2297.6h1V2297.6h1V2297.6h1V2297.6h1V2297.6h1V2297.6h1V2400.01h1V2400.01h1V2297.6h1V2297.6h1V2297.6h1V2297.6h1V2380.95h1V2297.6h1V2335.24h1V2335.24h1V2321.89h1V2321.89h1V2321.89h1V2328.77h1V2328.77h1V2328.77h1V2327.96h1V2327.96h1V2339.02h1V2297.6h1V2297.6h1V2297.6h1V2297.6h1V2297.6h1V2297.6h1V2297.6h1V2341.08h1V2341.08h1V2297.6h1V2297.6h1V2336.09h1V2331.36h1V2297.6h1V2297.6h1V2297.6h1V2336.5h1V2336.5h1V2320.67h1V2320.67h1V2340.34h1V2297.6h1V2297.6h1V2297.6h1V2303.78h1V2353.72h1V2353.72h1V2297.6h1V2297.6h1V2318.39h1V2318.39h1V2297.6h1V2297.6h1V2297.6h1V2297.6h1V2302.96h1V2297.6h1V2320.6h1V2320.6h1V2320.6h1V2297.6h1V2297.6h1V2332.74h1V2328.55h1V2328.55h1V2335.18h1V2335.18h1V2324.24h1V2297.6h1V2297.6h1V2297.6h1V2297.6h1V2297.6h1V2297.6h1V2358.46h1V2358.46h1V2358.46h1V2349.14h1V2349.14h1V2362.91h1V2297.6h1V2297.6h1V2297.6h1V2297.6h1V2297.6h1V2297.6h1V2297.6h1V2297.6h1V2297.6h1V2297.6h1V2297.6h1V2297.6h1V2332.99h1V2332.99h1V2332.99h1V2350.14h1V2343.74h1V2343.74h1V2343.74h1V2332.5h1V2297.6h1V2297.6h1V2297.6h1V2323.22h1V2416h1V2416h1V2416h1V2358.42h1V2360.18h1V2360.18h1V2344.96h1V2366.27h1V2370.1h1V2370.1h1V2394.69h1V2394.69h1V2394.69h1V2416h1V2416h1V2416h1V2416h1V2416h1V2416h1V2416h1V2416h1V2416h1V2416h1V2416h1V2321.19h1V2321.19h1V2297.6h1V2297.6h1V2297.6h1V2297.6h1V2333.96h1V2297.6h1V2297.6h1V2297.6h1V2297.6h1V2297.6h1V2297.6h1V2297.6h1V2297.6h1V2297.6h1V2304.62h1V2304.62h1V2297.6h1V2297.6h1V2297.6h1V2297.6h1V2297.6h1V2297.6h1V2297.6h1V2297.6h1V2320.95h1V2320.95h1V2332.05h1V2318.43h1V2297.6h1V2297.6h1V2297.6h1V2297.6h1V2322.65h1V2322.65h1V2322.65h1V2297.6h1V2297.6h1V2297.6h1V2297.6h1V2297.6h1V2297.6h1V2297.6h1V2321.05h1V2321.05h1V2359.26h1V2359.26h1V2359.26h1V2297.6h1V2365.93h1V2365.93h1V2334.57h1V2334.57h1V2297.6h1V2406.79h1V2297.6h1V2297.6h1V2297.6h1V2297.6h1V2297.6h1V2297.6h1V2323h1V2323h1V2322.51h1V2322.51h1V2322.51h1V2337.54h1V2337.54h1V2317.62h1V2317.62h1V2317.62h1V2318.03h1V2297.6h1V2297.6h1V2297.6h1V2297.6h1V2297.6h1V2297.6h1V2297.6h1V2297.6h1V2297.6h1V2372.22h1V2297.6h1V2297.6h1V2297.6h1V2297.6h1V2323.03h1V2323.03h1V2323.03h1V2297.6h1V2297.6h1V2297.6h1V2297.6h1V2297.6h1V2326.16h1V2326.16h1V2332.61h1V2332.61h1V2332.61h1V2325.49h1V2336.7h1V2336.7h1V2336.7h1V2331.91h1V2318.31h1V2318.31h1V2318.31h1V2297.6h1V2297.6h1V2338.26h1V2338.26h1V2297.6h1V2344.1h1V2344.1h1V2338.58h1V2338.58h1V2338.58h1V2328.28h1V2330.36h1V2332.43h1V2333.2h1V2311.26h1V2313.99h1V2341.63h1V2339.87h1V2322.19h1V2324.92h1V2327.66h1V2330.39h1V2333.12h1V2335.85h1V2338.58h1V2355.48h1V2357.7h1V2346.78h1V2349.51h1V2372.75h1V2374.6h1V2376.46h1V2364.12h1V2363.18h1V2365.91h1V2416ZM1794 2416V2402.98h1V2402.98h1V2402.98h1V2416ZM1820 2416V2402.98h1V2402.98h1V2402.98h1V2416ZM266.67 2416L266.67 2297.9L271.42 2297.9L271.59 2333.91L272.65 2333.91L273.35 2307.57L277.57 2309.32L278.44 2321.62L282.48 2321.62L283.01 2339.18L284.06 2339.18L284.59 2316.35L291.62 2317.23L292.14 2342.7L293.37 2342.7L293.9 2321.62L296.89 2316.35L299.52 2319.86L300.05 2351.48L301.28 2351.48L301.81 2333.91L304.79 2332.16L305.32 2344.45L306.72 2344.45L307.08 2297.9L308.83 2297.9L309.18 2321.62L310.94 2327.77L312.7 2328.64L313.75 2356.75L315.16 2356.75L315.86 2340.06L317.97 2339.18L319.37 2297.9L330.26 2297.9L330.61 2319.86L332.02 2319.86L332.55 2297.9L340.8 2297.9L341.68 2346.21L342.56 2377.83L346.95 2377.83L347.48 2388.37L349.23 2388.37L349.94 2378.71L351.34 2377.83L351.87 2395.39L353.1 2395.39L353.62 2356.75L356.26 2356.75L356.61 2407.69L358.37 2409.44L358.89 2416L358.89 2416ZM562.48 2416L562.48 2297.9L564.59 2297.9L564.59 2416ZM566 2416L566 2297.9L579.52 2297.9L579.52 2416ZM587.78 2416L587.78 2297.9L590.94 2297.9L590.94 2416ZM590.94 2416L590.94 2322.5L592.7 2322.5L592.7 2416ZM592.7 2416L592.7 2333.04L595.86 2333.04L595.86 2416ZM595.86 2416L595.86 2297.9L597.26 2297.9L597.26 2416ZM597.26 2416L597.26 2322.5L599.72 2322.5L599.72 2416ZM599.72 2416L599.72 2333.04L600.78 2333.04L600.78 2416ZM600.78 2416L600.78 2297.9L601.83 2297.9L601.83 2416ZM601.83 2416L601.83 2336.55L603.59 2336.55L603.59 2416ZM603.59 2416L603.59 2340.94L606.4 2340.94L606.4 2416ZM606.4 2416L606.4 2297.9L608.86 2297.9L608.86 2416ZM608.86 2416L608.86 2326.01L609.91 2326.01L609.91 2416ZM609.91 2416L609.91 2297.9L610.96 2297.9L610.96 2416ZM610.96 2416L610.96 2327.77L612.9 2327.77L612.9 2416ZM612.9 2416L612.9 2376.95L615.18 2376.95L615.18 2416ZM615.18 2416L615.18 2352.36L618.17 2352.36L618.17 2416ZM619.4 2416L619.4 2297.9L620.63 2297.9L620.63 2416ZM620.98 2416L620.98 2297.9L621.68 2297.9L621.68 2416ZM633.1 2416L633.1 2297.9L634.85 2297.9L634.85 2416ZM634.85 2416L634.85 2357.63L636.26 2357.63L636.26 2416ZM636.26 2416L636.26 2297.9L637.66 2297.9L637.66 2416ZM637.66 2416L637.66 2357.63L639.77 2357.63L639.77 2416ZM639.77 2416L639.77 2297.9L643.64 2297.9L643.64 2416ZM643.64 2416L643.64 2345.33L645.39 2345.33L645.39 2416ZM645.39 2416L645.39 2297.9L655.4 2297.9L655.4 2416ZM675.25 2416L675.25 2297.9L680.17 2297.9L680.17 2416ZM680.17 2416L680.17 2328.64L684.04 2328.64L684.04 2416ZM684.04 2416L684.04 2297.9L687.9 2297.9L687.9 2416ZM693.17 2416L693.17 2297.9L698.09 2297.9L698.09 2416ZM698.09 2416L698.09 2357.63L701.25 2357.63L701.25 2416ZM701.25 2416L701.25 2297.9L704.24 2297.9L704.24 2416ZM704.24 2416L704.24 2339.18L708.63 2339.18L708.63 2416ZM708.63 2416L708.63 2297.9L711.26 2297.9L711.26 2416ZM711.26 2416L711.26 2339.18L715.65 2339.18L715.65 2416ZM715.65 2416L715.65 2347.09L719.17 2347.09L719.17 2416ZM719.17 2416L719.17 2297.9L720.92 2297.9L720.92 2416ZM720.92 2416L720.92 2354.99L726.19 2354.99L726.19 2416ZM726.19 2416L726.19 2297.9L727.95 2297.9L727.95 2416ZM727.95 2416L727.95 2378.71L730.58 2378.71L730.58 2416ZM730.58 2416L730.58 2297.9L732.34 2297.9L732.34 2416ZM732.34 2416L732.34 2382.22L734.1 2382.22L734.1 2416ZM734.1 2416L734.1 2328.64L737.61 2328.64L737.61 2416ZM737.61 2416L737.61 2307.57L741.12 2307.57L741.12 2416ZM741.12 2416L741.12 2340.06L743.76 2340.06L743.76 2416ZM743.76 2416L743.76 2346.21L747.27 2346.21L747.27 2416ZM747.27 2416L747.27 2378.71L749.03 2378.71L749.03 2416ZM749.03 2416L749.03 2297.9L755.18 2297.9L755.18 2416ZM755.18 2416L755.18 2317.23L758.69 2317.23L758.69 2416ZM758.69 2416L758.69 2310.2L763.08 2310.2L763.08 2416ZM763.08 2416L763.08 2310.2L765.72 2310.2L765.72 2416ZM765.72 2416L765.72 2357.63L770.11 2357.63L770.11 2416ZM770.11 2416L770.11 2297.9L773.62 2297.9L773.62 2416ZM773.62 2416L773.62 2297.9L778.89 2297.9L778.89 2416ZM778.89 2416L778.89 2361.14L782.05 2361.14L782.05 2416ZM782.05 2416L782.05 2297.9L807.87 2297.9L807.87 2416ZM807.87 2416L807.87 2387.49L810.51 2387.49L810.51 2416ZM810.51 2416L810.51 2297.9L813.14 2297.9L813.14 2416ZM813.14 2416L813.14 2322.5L815.78 2322.5L815.78 2416ZM815.78 2416L815.78 2297.9L819.29 2297.9L819.29 2416ZM819.29 2416L819.29 2297.9L821.05 2297.9L821.05 2416ZM822.45 2416L822.45 2297.9L825.44 2297.9L825.44 2416ZM825.44 2416L825.44 2315.47L828.95 2315.47L828.95 2416ZM828.95 2416L828.95 2297.9L833.34 2297.9L833.34 2416ZM835.1 2416L835.1 2340.06L840.37 2340.06L840.37 2416ZM374.18 2416L374.18 2356.75L376.81 2356.75L376.81 2416ZM442.68 2416L442.68 2414.36L446.19 2414.36L446.19 2416ZM456.38 2416L456.38 2402.42L459.37 2402.42L459.37 2416ZM472.54 2416L472.54 2398.91L475.18 2398.91L475.18 2416ZM477.81 2416L477.81 2407.69L479.57 2407.69L479.57 2416ZM483.43 2416L483.43 2356.75L485.72 2356.75L485.72 2416ZM492.74 2416L492.74 2363.77L494.5 2363.77L494.5 2416ZM494.5 2416L494.5 2356.75L496.26 2356.75L496.26 2416ZM496.26 2416L496.26 2297.9L498.01 2297.9L498.01 2416ZM500.65 2416L500.65 2339.18L503.28 2339.18L503.28 2416ZM504.51 2416L504.51 2363.77L505.92 2363.77L505.92 2416ZM506.44 2416L506.44 2333.04L509.43 2333.04L509.43 2416ZM509.43 2416L509.43 2384.85L511.19 2384.85L511.19 2416ZM512.24 2416L512.24 2339.18L514.35 2339.18L514.35 2416ZM514.7 2416L514.7 2303.17L516.81 2303.17L516.81 2416ZM516.81 2416L516.81 2367.29L519.09 2367.29L519.09 2416ZM519.62 2416L519.62 2297.9L523.48 2297.9L523.48 2416ZM527.87 2416L527.87 2346.21L529.63 2346.21L529.63 2416ZM529.63 2416L529.63 2377.83L531.39 2377.83L531.39 2416ZM531.56 2416L531.56 2297.9L534.9 2297.9L534.9 2416Z" fill="#ffab0b" clip-path="url(#yc)"/>
<rect x="267.2" y="2415.4" width="1574.4" height="1.3" fill="#f4a43a"/>
<path d="M778 2546.6V2544.52h1V2546.6ZM782 2546.6V2544.26h1V2544.02h1V2545.3h1V2544.57h1V2546.6ZM788 2546.6V2542.97h1V2543.4h1V2545.13h1V2546.6ZM792 2546.6V2544.42h1V2546.6ZM795 2546.6V2541.86h1V2542.7h1V2541.74h1V2541.56h1V2546.6ZM800 2546.6V2543.53h1V2544.26h1V2543.64h1V2544.71h1V2543.4h1V2541.48h1V2543.38h1V2541.76h1V2540.58h1V2541.42h1V2546.6ZM811 2546.6V2541.1h1V2541.92h1V2544.19h1V2540.1h1V2540.91h1V2546.6ZM818 2546.6V2542.57h1V2540.5h1V2540.55h1V2539.92h1V2539.4h1V2542.36h1V2534.8h1V2537.16h1V2542.35h1V2543.01h1V2543.12h1V2538.48h1V2543.59h1V2546.6ZM832 2546.6V2541.51h1V2540.38h1V2541.11h1V2543.37h1V2546.6ZM837 2546.6V2540.7h1V2542.81h1V2537.8h1V2538.7h1V2540.81h1V2452.2h1V2452.2h1V2511.2h1V2537.08h1V2540.16h1V2540.16h1V2540.6h1V2537.16h1V2546.6ZM852 2546.6V2539.7h1V2469.9h1V2469.9h1V2511.2h1V2537.48h1V2538.19h1V2540.31h1V2540.86h1V2539.52h1V2539.52h1V2537.93h1V2542.71h1V2546.6ZM1150 2546.6V2534.8h1V2542.76h1V2540.28h1V2541.51h1V2539.42h1V2540.42h1V2539.53h1V2542.19h1V2540.44h1V2539.89h1V2539.35h1V2542.17h1V2539.27h1V2539.11h1V2540.18h1V2538.48h1V2538.6h1V2541.18h1V2537.16h1V2543.26h1V2539.3h1V2538.71h1V2471.08h1V2471.08h1V2523h1V2523h1V2543.23h1V2539.64h1V2540.81h1V2532.44h1V2532.44h1V2540.56h1V2539.67h1V2540.48h1V2539.99h1V2544.08h1V2543.3h1V2541.64h1V2540.4h1V2542.95h1V2540.7h1V2540.52h1V2543.99h1V2541.46h1V2542.91h1V2543.92h1V2546.6ZM1390 2546.6V2543.61h1V2542.74h1V2543.38h1V2508.84h1V2508.84h1V2534.8h1V2542.44h1V2541.35h1V2541.45h1V2543.12h1V2539.98h1V2539.52h1V2542.33h1V2542.93h1V2542.3h1V2543.7h1V2540.32h1V2542.48h1V2544.07h1V2541.34h1V2543.79h1V2541.67h1V2542.64h1V2541.5h1V2539.72h1V2540.38h1V2542.26h1V2540.4h1V2541.21h1V2542.5h1V2532.44h1V2537.16h1V2541.58h1V2539.72h1V2539.67h1V2541.37h1V2542.58h1V2540.02h1V2544.24h1V2524.18h1V2524.18h1V2524.18h1V2546.6ZM1660 2546.6V2542.23h1V2539.35h1V2537.8h1V2540.84h1V2540.51h1V2541.72h1V2541.34h1V2537.32h1V2540.82h1V2537.39h1V2537.67h1V2539.54h1V2541.53h1V2537.27h1V2540.13h1V2540.61h1V2546.6ZM1690 2546.6V2536.11h1V2541.87h1V2543.23h1V2540.58h1V2537.78h1V2546.6ZM1696 2546.6V2505.3h1V2468.72h1V2523h1V2542.03h1V2536.07h1V2539.22h1V2538.91h1V2538.1h1V2537.96h1V2539.83h1V2541.79h1V2501.76h1V2501.76h1V2543.94h1V2540.48h1V2546.6ZM1713 2546.6V2471.08h1V2471.08h1V2471.08h1V2546.6ZM1786 2546.6V2544.55h1V2546.6ZM1788 2546.6V2542.95h1V2546.6ZM1791 2546.6V2543.12h1V2546.6ZM1793 2546.6V2544.01h1V2546.6ZM1796 2546.6V2544.97h1V2546.6ZM1799 2546.6V2544.74h1V2546.6ZM1803 2546.6V2543.29h1V2546.6ZM1807 2546.6V2542.94h1V2543.52h1V2546.6ZM1811 2546.6V2544.56h1V2546.6ZM1813 2546.6V2543.62h1V2546.6ZM1815 2546.6V2543.58h1V2545.1h1V2546.6ZM1818 2546.6V2545.25h1V2546.6ZM1822 2546.6V2544.15h1V2543.65h1V2546.6ZM1827 2546.6V2543.36h1V2543.56h1V2546.6ZM1833 2546.6V2543.79h1V2543.21h1V2546.6ZM1836 2546.6V2544.73h1V2546.6ZM1839 2546.6V2543.32h1V2546.6ZM273.7 2546.6L273.7 2546.55L273.7 2470.67L275.46 2470.67L275.81 2496.14L278.44 2496.14L278.97 2519.85L280.2 2533.91L281.96 2532.15L283.19 2489.99L286.35 2489.11L287.75 2492.63L288.98 2506.68L291.27 2508.44L292.14 2526L293.37 2504.04L294.78 2502.29L296.01 2474.18L299 2474.18L299.7 2527.76L301.28 2520.73L304.26 2520.73L304.97 2540.93L306.02 2536.54L310.06 2535.66L311.29 2533.91L313.05 2534.78L314.45 2537.42L318.84 2538.3L319.72 2471.55L322.53 2471.55L322.88 2540.93L325.34 2541.81L326.4 2544.44L327.63 2462.77L329.56 2462.77L329.91 2534.78L332.02 2535.31L332.9 2533.91L335.18 2533.91L335.88 2541.81L338.17 2542.69L339.04 2546.55L339.04 2546.6ZM340.8 2546.6L340.8 2546.55L341.68 2544.44L344.31 2544.44L345.19 2546.55L345.19 2546.6ZM347.48 2546.6L347.48 2546.55L347.83 2540.93L350.46 2540.58L351.34 2544.44L353.98 2545.32L354.85 2546.55L354.85 2546.6ZM359.24 2546.6L359.24 2545.5L361 2545.5L361 2546.6ZM363.64 2546.6L363.64 2544.8L365.39 2544.8L365.39 2546.6ZM375.93 2546.6L375.93 2545.85L382.96 2545.85L382.96 2546.6ZM386.47 2546.6L386.47 2545.32L389.11 2545.32L389.11 2546.6ZM393.5 2546.6L393.5 2545.85L396.13 2545.85L396.13 2546.6ZM398.77 2546.6L398.77 2545.5L414.58 2545.5L414.58 2546.6ZM400.52 2546.6L400.52 2544.97L405.79 2544.97L405.79 2546.6ZM421.6 2546.6L421.6 2545.15L424.24 2545.15L424.24 2546.6ZM430.38 2546.6L430.38 2545.15L433.02 2545.15L433.02 2546.6ZM439.17 2546.6L439.17 2545.85L440.92 2545.85L440.92 2546.6ZM447.07 2546.6L447.07 2545.85L449.71 2545.85L449.71 2546.6ZM460.25 2546.6L460.25 2545.85L462.88 2545.85L462.88 2546.6ZM473.42 2546.6L473.42 2546.55L475.18 2541.81L477.81 2541.81L478.69 2545.32L481.32 2544.44L484.84 2544.44L488.35 2542.69L489.23 2540.05L490.99 2540.05L491.86 2543.57L493.62 2538.3L496.26 2538.3L497.13 2546.2L499.77 2540.05L502.4 2540.05L503.28 2541.81L504.51 2535.66L507.67 2533.91L508.55 2528.64L509.78 2528.64L510.83 2534.78L512.94 2534.78L514.7 2537.42L517.33 2540.05L519.97 2536.54L522.6 2535.66L524.01 2518.98L525.59 2518.98L526.12 2544.44L531.39 2543.57L532.62 2510.19L534.02 2510.19L534.55 2440.81L536.66 2440.81L537.18 2429.39L540.52 2429.39L540.52 2546.55L540.52 2546.6Z" fill="#f79d1b"/>
<text transform="translate(279.4,2047.8) scale(0.9615,1)" font-family="Liberation Sans, Arial, sans-serif" font-size="20.8" fill="#000" stroke="#000" stroke-width="0.35">[0-1.00]</text>
<text transform="translate(279.4,2180.9) scale(0.9615,1)" font-family="Liberation Sans, Arial, sans-serif" font-size="20.8" fill="#000" stroke="#000" stroke-width="0.35">[0-1.00]</text>
<text transform="translate(279.4,2317.05) scale(0.9705,1)" font-family="Liberation Sans, Arial, sans-serif" font-size="20.8" fill="#000" stroke="#000" stroke-width="0.35">[0-100] %</text>
<text transform="translate(279.4,2444.9) scale(0.9705,1)" font-family="Liberation Sans, Arial, sans-serif" font-size="20.8" fill="#000" stroke="#000" stroke-width="0.35">[0-100] %</text>
<rect x="363.11" y="2573" width="112.3" height="11.2" fill="#0909b6"/>
<rect x="383.2" y="2568.9" width="10.25" height="18.1" fill="#0909b6"/>
<rect x="406.97" y="2568.9" width="8.2" height="18.1" fill="#0909b6"/>
<rect x="420.9" y="2568.9" width="6.56" height="18.1" fill="#0909b6"/>
<rect x="438.52" y="2568.9" width="16.39" height="18.1" fill="#0909b6"/>
<polyline points="380.6,2575 385.8,2578.6 380.6,2582.2" fill="none" stroke="#dfe3ff" stroke-width="1.1"/>
<polyline points="421.58,2575 426.78,2578.6 421.58,2582.2" fill="none" stroke="#dfe3ff" stroke-width="1.1"/>
<polyline points="462.56,2575 467.76,2578.6 462.56,2582.2" fill="none" stroke="#dfe3ff" stroke-width="1.1"/>
<text transform="translate(345,2614.8) scale(1.0464,1)" font-family="Liberation Sans, Arial, sans-serif" font-size="27.5" fill="#000" font-style="italic" stroke="#000" stroke-width="0.35">Pp3c18_90</text>
<rect x="190.2" y="2104.5" width="3.3" height="186.5" fill="#000"/>
<rect x="190.2" y="2356.6" width="3.3" height="187.3" fill="#000"/>
<text transform="translate(202,2138.1) scale(1.0453,1)" font-family="Liberation Sans, Arial, sans-serif" font-size="27.5" fill="#000" stroke="#000" stroke-width="0.35">WT</text>
<text transform="translate(202,2282.8) scale(1.0287,1)" font-family="Liberation Sans, Arial, sans-serif" font-size="27.5" fill="#000" stroke="#000" stroke-width="0.35">Syn</text>
<text transform="translate(8.2,2212.3) scale(1.0455,1)" font-family="Liberation Sans, Arial, sans-serif" font-size="27.5" fill="#000" stroke="#000" stroke-width="0.35">H3K9me2</text>
<text transform="translate(202,2396.7) scale(1.0453,1)" font-family="Liberation Sans, Arial, sans-serif" font-size="27.5" fill="#000" stroke="#000" stroke-width="0.35">WT</text>
<text transform="translate(48.4,2448.8) scale(1.0419,1)" font-family="Liberation Sans, Arial, sans-serif" font-size="27.5" fill="#000" stroke="#000" stroke-width="0.35">DNA</text>
<text transform="translate(8.2,2483.6) scale(1.0486,1)" font-family="Liberation Sans, Arial, sans-serif" font-size="27.5" fill="#000" stroke="#000" stroke-width="0.35">methylation</text>
<text transform="translate(202,2534.8) scale(1.0287,1)" font-family="Liberation Sans, Arial, sans-serif" font-size="27.5" fill="#000" stroke="#000" stroke-width="0.35">Syn</text>
<text transform="translate(182.4,2588.1) scale(1.0372,1)" font-family="Liberation Sans, Arial, sans-serif" font-size="27.5" fill="#000" stroke="#000" stroke-width="0.35">Genes</text>
<text transform="translate(1878.6,2109.5) scale(0.7239,1)" font-family="Liberation Sans, Arial, sans-serif" font-size="43" fill="#000" stroke="#000" stroke-width="0.9">X</text>
<text transform="translate(1874.6,2150.2) scale(1.0425,1)" font-family="Liberation Sans, Arial, sans-serif" font-size="27.5" fill="#000" stroke="#000" stroke-width="0.35">New joints</text>
<text transform="translate(1874.6,2185.1) scale(1.0494,1)" font-family="Liberation Sans, Arial, sans-serif" font-size="27.5" fill="#000" stroke="#000" stroke-width="0.35">after deletion</text>
<rect x="1867.8" y="2314.1" width="92.5" height="39.3" fill="#f6faae"/>
<text transform="translate(1869.4,2392.6) scale(1.0448,1)" font-family="Liberation Sans, Arial, sans-serif" font-size="27.5" fill="#000" stroke="#000" stroke-width="0.35">Deleted Region</text>
<rect x="1121.4" y="1795" width="377.5" height="157.7" stroke="#0b0bd0" stroke-width="4.2" fill="none" stroke-dasharray="8.1 8.7"/>
<line x1="1121.4" y1="1952.7" x2="267.2" y2="2021.3" stroke="#0b0bd0" stroke-width="4.2" fill="none" stroke-dasharray="8.1 8.7"/>
<line x1="1498.9" y1="1952.7" x2="1841.6" y2="2021.3" stroke="#0b0bd0" stroke-width="4.2" fill="none" stroke-dasharray="8.1 8.7"/>
<rect x="267.2" y="2021.3" width="1574.4" height="616.8" stroke="#0b0bd0" stroke-width="4.2" fill="none" stroke-dasharray="8.1 8.7"/>
</g>
</svg>
</body></html>
